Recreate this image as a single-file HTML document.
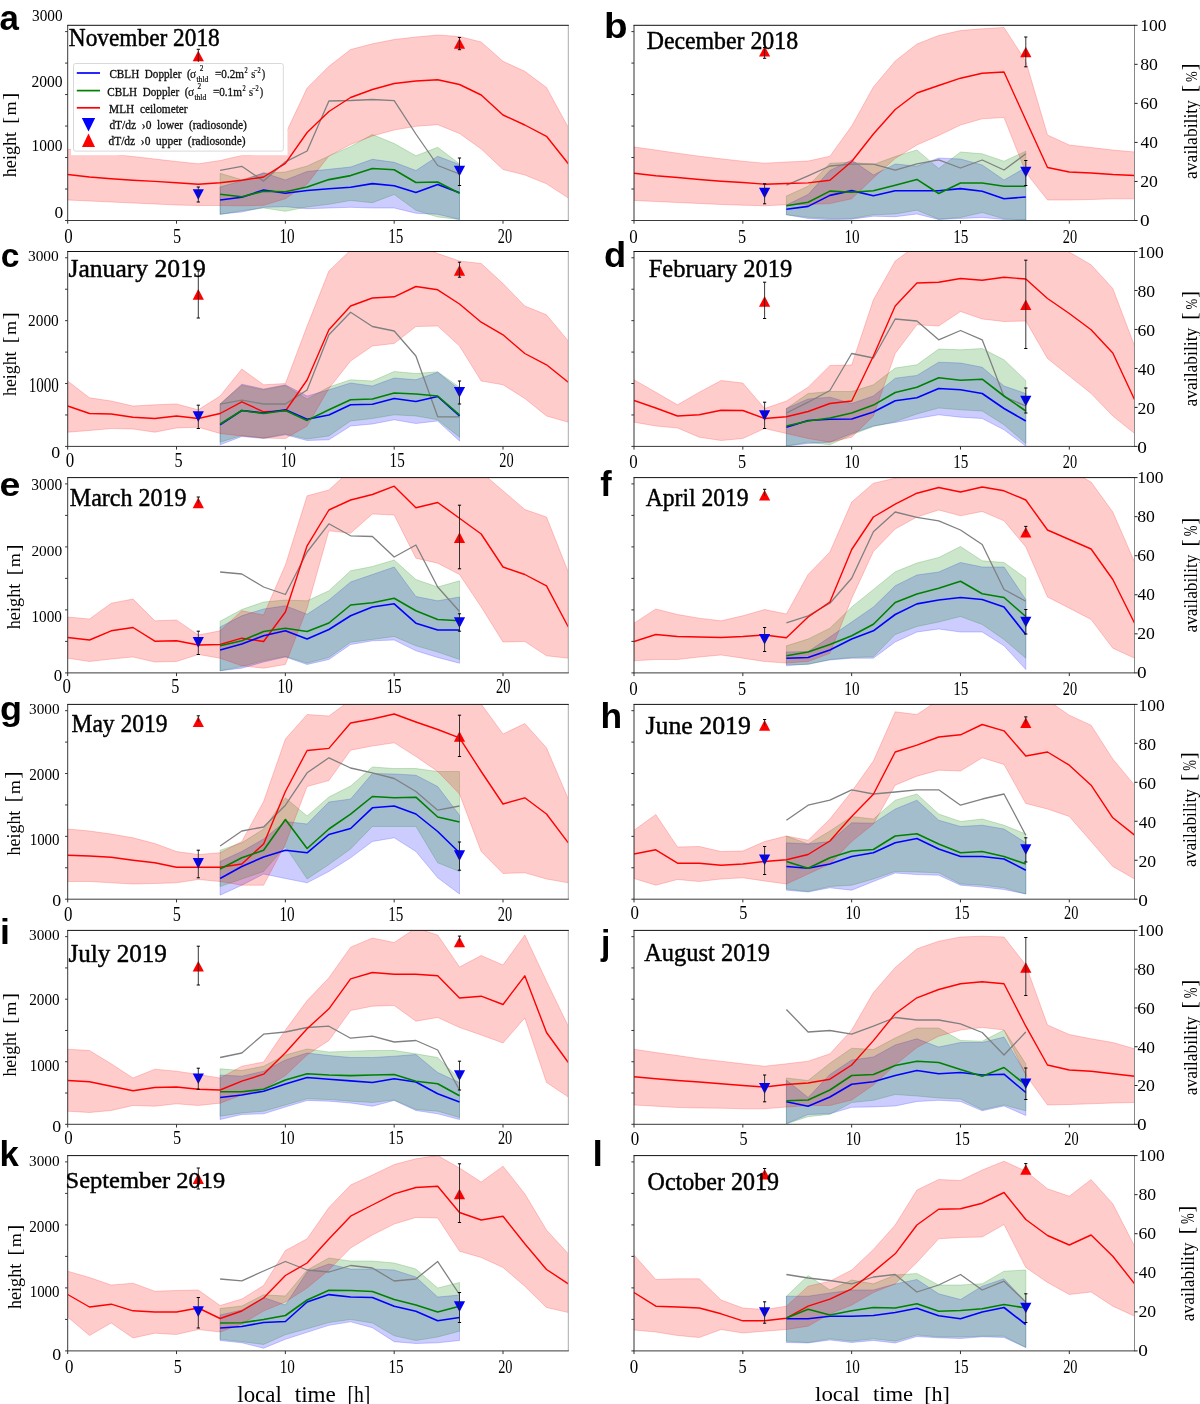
<!DOCTYPE html><html><head><meta charset="utf-8"><style>html,body{margin:0;padding:0;background:#fff;overflow:hidden}svg{display:block}</style></head><body>
<svg width="1200" height="1404" viewBox="0 0 1200 1404">
<rect width="1200" height="1404" fill="#fff"/>
<defs>
<filter id="desat" x="0" y="0" width="1200" height="1404" filterUnits="userSpaceOnUse" color-interpolation-filters="sRGB"><feColorMatrix type="saturate" values="0"/></filter>
<clipPath id="clip0"><rect x="67.7" y="25.3" width="500.60" height="195.20"/></clipPath>
<clipPath id="clip1"><rect x="634.0" y="25.3" width="500.60" height="195.20"/></clipPath>
<clipPath id="clip2"><rect x="67.7" y="251.5" width="500.60" height="194.90"/></clipPath>
<clipPath id="clip3"><rect x="634.0" y="251.5" width="500.60" height="194.90"/></clipPath>
<clipPath id="clip4"><rect x="67.7" y="477.6" width="500.60" height="195.30"/></clipPath>
<clipPath id="clip5"><rect x="634.0" y="477.6" width="500.60" height="195.30"/></clipPath>
<clipPath id="clip6"><rect x="67.7" y="704.4" width="500.60" height="194.80"/></clipPath>
<clipPath id="clip7"><rect x="634.0" y="704.4" width="500.60" height="194.80"/></clipPath>
<clipPath id="clip8"><rect x="67.7" y="930.4" width="500.60" height="193.90"/></clipPath>
<clipPath id="clip9"><rect x="634.0" y="930.4" width="500.60" height="193.90"/></clipPath>
<clipPath id="clip10"><rect x="67.7" y="1155.6" width="500.60" height="195.30"/></clipPath>
<clipPath id="clip11"><rect x="634.0" y="1155.6" width="500.60" height="195.30"/></clipPath>
</defs>
<g clip-path="url(#clip0)">
<polygon points="220.1,187.0 241.8,180.7 263.6,172.7 285.4,180.0 307.1,171.5 328.9,169.3 350.6,167.0 372.4,159.3 394.2,162.3 415.9,170.5 437.7,156.3 459.5,164.5 459.5,219.5 437.7,214.3 415.9,213.3 394.2,208.0 372.4,208.0 350.6,207.3 328.9,208.0 307.1,208.7 285.4,206.7 263.6,207.3 241.8,212.0 220.1,214.0" fill="#0000ff" fill-opacity="0.2" stroke="#0000ff" stroke-opacity="0.2" stroke-width="1"/>
<polygon points="220.1,173.3 241.8,179.7 263.6,173.3 285.4,172.0 307.1,166.0 328.9,156.0 350.6,146.5 372.4,134.5 394.2,143.5 415.9,155.8 437.7,147.3 459.5,163.8 459.5,219.5 437.7,217.0 415.9,210.3 394.2,194.5 372.4,202.7 350.6,200.5 328.9,204.3 307.1,207.0 285.4,211.3 263.6,208.0 241.8,210.7 220.1,214.7" fill="#008000" fill-opacity="0.2" stroke="#008000" stroke-opacity="0.2" stroke-width="1"/>
<polygon points="67.7,149.3 89.5,151.5 111.2,154.0 133.0,156.5 154.8,159.0 176.5,161.5 198.3,163.8 220.1,160.5 241.8,155.5 263.6,154.0 285.4,134.0 307.1,88.0 328.9,66.3 350.6,49.5 372.4,43.8 394.2,39.5 415.9,37.0 437.7,35.0 459.5,36.5 481.2,42.0 503.0,61.3 524.8,71.3 546.5,87.5 568.3,127.5 568.3,198.0 546.5,183.8 524.8,175.0 503.0,169.5 481.2,149.0 459.5,133.5 437.7,124.7 415.9,126.3 394.2,130.0 372.4,136.0 350.6,144.5 328.9,156.0 307.1,184.0 285.4,198.7 263.6,205.3 241.8,205.8 220.1,205.5 198.3,205.5 176.5,205.0 154.8,204.0 133.0,203.0 111.2,202.0 89.5,201.0 67.7,200.0" fill="#ff0000" fill-opacity="0.2" stroke="#ff0000" stroke-opacity="0.2" stroke-width="1"/>
<polyline points="220.1,170.4 241.8,166.3 263.6,181.1 285.4,161.8 307.1,151.0 328.9,101.0 350.6,100.5 372.4,99.5 394.2,100.7 415.9,134.0 437.7,165.5 459.5,174.0" fill="none" stroke="#808080" stroke-width="1.3" stroke-linejoin="round"/>
<polyline points="67.7,174.5 89.5,177.0 111.2,178.8 133.0,180.2 154.8,181.4 176.5,182.8 198.3,184.3 220.1,182.8 241.8,180.3 263.6,177.0 285.4,163.3 307.1,132.5 328.9,111.5 350.6,97.5 372.4,89.5 394.2,83.5 415.9,81.0 437.7,79.8 459.5,84.5 481.2,95.0 503.0,115.0 524.8,125.0 546.5,136.3 568.3,163.8" fill="none" stroke="#ff0000" stroke-width="1.4" stroke-linejoin="round"/>
<polyline points="220.1,200.0 241.8,197.3 263.6,190.0 285.4,193.3 307.1,190.5 328.9,188.7 350.6,187.2 372.4,183.6 394.2,185.7 415.9,192.5 437.7,184.6 459.5,192.8" fill="none" stroke="#0000ff" stroke-width="1.6" stroke-linejoin="round"/>
<polyline points="220.1,194.3 241.8,196.7 263.6,191.3 285.4,191.7 307.1,187.0 328.9,179.6 350.6,175.6 372.4,168.5 394.2,169.8 415.9,182.5 437.7,182.0 459.5,193.2" fill="none" stroke="#008000" stroke-width="1.6" stroke-linejoin="round"/>
</g>
<polygon points="198.3,50.7 192.7,61.3 203.9,61.3" fill="#ff0000"/>
<path d="M198.3,49.3V63.7" stroke="#222" stroke-width="0.9" fill="none"/>
<path d="M196.7,49.3H199.9M196.7,63.7H199.9" stroke="#000" stroke-width="1" fill="none"/>
<polygon points="198.3,199.8 192.7,189.2 203.9,189.2" fill="#0000ff"/>
<path d="M198.3,187.0V202.0" stroke="#222" stroke-width="0.9" fill="none"/>
<path d="M196.7,187.0H199.9M196.7,202.0H199.9" stroke="#000" stroke-width="1" fill="none"/>
<polygon points="459.5,38.2 453.9,48.8 465.1,48.8" fill="#ff0000"/>
<path d="M459.5,37.5V49.7" stroke="#222" stroke-width="0.9" fill="none"/>
<path d="M457.9,37.5H461.1M457.9,49.7H461.1" stroke="#000" stroke-width="1" fill="none"/>
<polygon points="459.5,176.3 453.9,165.7 465.1,165.7" fill="#0000ff"/>
<path d="M459.5,158.0V185.5" stroke="#222" stroke-width="0.9" fill="none"/>
<path d="M457.9,158.0H461.1M457.9,185.5H461.1" stroke="#000" stroke-width="1" fill="none"/>
<g clip-path="url(#clip1)">
<polygon points="786.4,205.0 808.1,194.5 829.9,170.5 851.7,160.0 873.4,175.0 895.2,164.0 916.9,166.1 938.7,158.0 960.5,159.0 982.2,165.0 1004.0,180.0 1025.8,167.5 1025.8,220.0 1004.0,219.5 982.2,217.5 960.5,218.5 938.7,219.5 916.9,214.0 895.2,216.7 873.4,216.2 851.7,219.2 829.9,219.7 808.1,218.5 786.4,214.8" fill="#0000ff" fill-opacity="0.2" stroke="#0000ff" stroke-opacity="0.2" stroke-width="1"/>
<polygon points="786.4,196.0 808.1,186.2 829.9,163.3 851.7,162.2 873.4,164.5 895.2,156.5 916.9,149.9 938.7,168.5 960.5,152.0 982.2,153.8 1004.0,161.2 1025.8,151.2 1025.8,220.0 1004.0,218.8 982.2,212.5 960.5,217.5 938.7,219.2 916.9,210.2 895.2,214.0 873.4,214.8 851.7,218.5 829.9,218.5 808.1,217.3 786.4,214.8" fill="#008000" fill-opacity="0.2" stroke="#008000" stroke-opacity="0.2" stroke-width="1"/>
<polygon points="634.0,147.0 655.8,150.0 677.5,153.2 699.3,156.2 721.1,158.8 742.8,161.2 764.6,163.2 786.4,162.0 808.1,161.0 829.9,156.2 851.7,126.0 873.4,87.0 895.2,61.0 916.9,44.0 938.7,35.5 960.5,30.5 982.2,28.8 1004.0,27.5 1025.8,61.2 1047.5,135.0 1069.3,145.0 1091.1,147.5 1112.8,150.0 1134.6,152.0 1134.6,198.8 1112.8,198.8 1091.1,199.5 1069.3,200.0 1047.5,200.0 1025.8,172.5 1004.0,117.5 982.2,118.8 960.5,125.0 938.7,135.5 916.9,145.0 895.2,158.5 873.4,178.0 851.7,198.8 829.9,203.6 808.1,204.4 786.4,204.7 764.6,205.8 742.8,205.2 721.1,204.5 699.3,203.5 677.5,202.5 655.8,201.5 634.0,200.5" fill="#ff0000" fill-opacity="0.2" stroke="#ff0000" stroke-opacity="0.2" stroke-width="1"/>
<polyline points="786.4,185.2 808.1,175.9 829.9,166.0 851.7,164.2 873.4,164.2 895.2,170.1 916.9,163.8 938.7,159.8 960.5,168.0 982.2,160.0 1004.0,170.0 1025.8,153.8" fill="none" stroke="#808080" stroke-width="1.3" stroke-linejoin="round"/>
<polyline points="634.0,173.2 655.8,175.8 677.5,177.5 699.3,179.5 721.1,181.2 742.8,182.5 764.6,184.2 786.4,183.5 808.1,182.9 829.9,180.2 851.7,161.5 873.4,134.0 895.2,109.5 916.9,93.0 938.7,85.5 960.5,78.2 982.2,73.2 1004.0,72.0 1025.8,120.0 1047.5,167.5 1069.3,172.0 1091.1,173.0 1112.8,174.5 1134.6,175.5" fill="none" stroke="#ff0000" stroke-width="1.4" stroke-linejoin="round"/>
<polyline points="786.4,209.2 808.1,206.4 829.9,195.4 851.7,190.6 873.4,195.7 895.2,190.8 916.9,190.8 938.7,190.8 960.5,188.6 982.2,191.2 1004.0,198.8 1025.8,197.0" fill="none" stroke="#0000ff" stroke-width="1.6" stroke-linejoin="round"/>
<polyline points="786.4,205.7 808.1,202.2 829.9,191.1 851.7,192.3 873.4,190.8 895.2,185.3 916.9,179.4 938.7,193.5 960.5,183.0 982.2,183.0 1004.0,186.2 1025.8,186.2" fill="none" stroke="#008000" stroke-width="1.6" stroke-linejoin="round"/>
</g>
<polygon points="764.6,46.0 759.0,56.6 770.2,56.6" fill="#ff0000"/>
<path d="M764.6,47.5V58.3" stroke="#222" stroke-width="0.9" fill="none"/>
<path d="M763.0,47.5H766.2M763.0,58.3H766.2" stroke="#000" stroke-width="1" fill="none"/>
<polygon points="764.6,198.3 759.0,187.7 770.2,187.7" fill="#0000ff"/>
<path d="M764.6,183.8V203.8" stroke="#222" stroke-width="0.9" fill="none"/>
<path d="M763.0,183.8H766.2M763.0,203.8H766.2" stroke="#000" stroke-width="1" fill="none"/>
<polygon points="1025.8,46.7 1020.2,57.3 1031.4,57.3" fill="#ff0000"/>
<path d="M1025.8,37.0V66.8" stroke="#222" stroke-width="0.9" fill="none"/>
<path d="M1024.2,37.0H1027.4M1024.2,66.8H1027.4" stroke="#000" stroke-width="1" fill="none"/>
<polygon points="1025.8,177.3 1020.2,166.7 1031.4,166.7" fill="#0000ff"/>
<path d="M1025.8,160.5V185.5" stroke="#222" stroke-width="0.9" fill="none"/>
<path d="M1024.2,160.5H1027.4M1024.2,185.5H1027.4" stroke="#000" stroke-width="1" fill="none"/>
<g clip-path="url(#clip2)">
<polygon points="220.1,404.0 241.8,384.2 263.6,389.0 285.4,384.8 307.1,396.0 328.9,389.8 350.6,383.0 372.4,386.0 394.2,378.0 415.9,379.8 437.7,372.2 459.5,389.8 459.5,441.0 437.7,421.0 415.9,423.5 394.2,419.8 372.4,424.0 350.6,426.0 328.9,439.8 307.1,440.5 285.4,434.8 263.6,438.5 241.8,436.5 220.1,444.8" fill="#0000ff" fill-opacity="0.2" stroke="#0000ff" stroke-opacity="0.2" stroke-width="1"/>
<polygon points="220.1,404.0 241.8,385.2 263.6,389.8 285.4,385.5 307.1,399.0 328.9,387.0 350.6,379.8 372.4,381.0 394.2,371.5 415.9,373.5 437.7,371.8 459.5,387.2 459.5,437.2 437.7,419.8 415.9,416.0 394.2,414.8 372.4,418.5 350.6,421.0 328.9,436.0 307.1,439.0 285.4,434.0 263.6,438.0 241.8,435.5 220.1,442.2" fill="#008000" fill-opacity="0.2" stroke="#008000" stroke-opacity="0.2" stroke-width="1"/>
<polygon points="67.7,381.0 89.5,397.8 111.2,401.0 133.0,406.0 154.8,404.8 176.5,404.0 198.3,409.8 220.1,396.0 241.8,369.0 263.6,384.8 285.4,383.5 307.1,326.0 328.9,271.0 350.6,250.0 372.4,244.0 394.2,244.0 415.9,244.0 437.7,253.5 459.5,261.0 481.2,263.5 503.0,283.5 524.8,306.0 546.5,314.8 568.3,341.0 568.3,422.2 546.5,416.0 524.8,398.5 503.0,384.8 481.2,381.0 459.5,346.0 437.7,326.0 415.9,326.5 394.2,343.5 372.4,346.0 350.6,361.0 328.9,388.5 307.1,426.0 285.4,438.5 263.6,438.0 241.8,436.0 220.1,433.5 198.3,427.2 176.5,428.0 154.8,432.2 133.0,429.0 111.2,428.5 89.5,430.5 67.7,432.2" fill="#ff0000" fill-opacity="0.2" stroke="#ff0000" stroke-opacity="0.2" stroke-width="1"/>
<polyline points="220.1,404.2 241.8,400.2 263.6,404.0 285.4,404.0 307.1,390.0 328.9,334.8 350.6,312.2 372.4,326.5 394.2,331.0 415.9,356.0 437.7,416.8 459.5,416.8" fill="none" stroke="#808080" stroke-width="1.3" stroke-linejoin="round"/>
<polyline points="67.7,406.0 89.5,413.5 111.2,414.0 133.0,417.2 154.8,418.5 176.5,416.0 198.3,418.5 220.1,413.5 241.8,401.8 263.6,411.8 285.4,411.0 307.1,380.0 328.9,329.8 350.6,306.0 372.4,298.0 394.2,296.8 415.9,286.5 437.7,289.8 459.5,304.0 481.2,322.2 503.0,334.8 524.8,353.5 546.5,364.8 568.3,382.2" fill="none" stroke="#ff0000" stroke-width="1.4" stroke-linejoin="round"/>
<polyline points="220.1,424.8 241.8,410.5 263.6,413.0 285.4,409.8 307.1,419.2 328.9,415.0 350.6,404.8 372.4,404.2 394.2,398.5 415.9,401.5 437.7,396.5 459.5,416.0" fill="none" stroke="#0000ff" stroke-width="1.6" stroke-linejoin="round"/>
<polyline points="220.1,424.0 241.8,410.5 263.6,413.5 285.4,410.5 307.1,420.4 328.9,409.8 350.6,399.8 372.4,399.0 394.2,393.0 415.9,394.0 437.7,396.0 459.5,414.8" fill="none" stroke="#008000" stroke-width="1.6" stroke-linejoin="round"/>
</g>
<polygon points="198.3,289.1 192.7,299.7 203.9,299.7" fill="#ff0000"/>
<path d="M198.3,271.0V318.0" stroke="#222" stroke-width="0.9" fill="none"/>
<path d="M196.7,271.0H199.9M196.7,318.0H199.9" stroke="#000" stroke-width="1" fill="none"/>
<polygon points="198.3,421.9 192.7,411.3 203.9,411.3" fill="#0000ff"/>
<path d="M198.3,405.2V428.5" stroke="#222" stroke-width="0.9" fill="none"/>
<path d="M196.7,405.2H199.9M196.7,428.5H199.9" stroke="#000" stroke-width="1" fill="none"/>
<polygon points="459.5,265.1 453.9,275.7 465.1,275.7" fill="#ff0000"/>
<path d="M459.5,262.2V277.2" stroke="#222" stroke-width="0.9" fill="none"/>
<path d="M457.9,262.2H461.1M457.9,277.2H461.1" stroke="#000" stroke-width="1" fill="none"/>
<polygon points="459.5,397.6 453.9,386.9 465.1,386.9" fill="#0000ff"/>
<path d="M459.5,381.0V404.0" stroke="#222" stroke-width="0.9" fill="none"/>
<path d="M457.9,381.0H461.1M457.9,404.0H461.1" stroke="#000" stroke-width="1" fill="none"/>
<g clip-path="url(#clip3)">
<polygon points="786.4,408.5 808.1,399.0 829.9,397.2 851.7,403.5 873.4,396.0 895.2,378.2 916.9,375.4 938.7,362.2 960.5,363.0 982.2,367.2 1004.0,386.0 1025.8,393.5 1025.8,446.0 1004.0,429.8 982.2,418.5 960.5,417.2 938.7,414.8 916.9,418.5 895.2,422.5 873.4,426.0 851.7,433.5 829.9,442.2 808.1,443.5 786.4,446.0" fill="#0000ff" fill-opacity="0.2" stroke="#0000ff" stroke-opacity="0.2" stroke-width="1"/>
<polygon points="786.4,408.5 808.1,393.5 829.9,391.5 851.7,391.5 873.4,384.8 895.2,368.0 916.9,364.8 938.7,349.0 960.5,349.8 982.2,348.5 1004.0,359.8 1025.8,380.5 1025.8,443.5 1004.0,424.8 982.2,411.0 960.5,409.8 938.7,408.0 916.9,414.0 895.2,421.6 873.4,426.5 851.7,434.8 829.9,444.8 808.1,442.2 786.4,446.0" fill="#008000" fill-opacity="0.2" stroke="#008000" stroke-opacity="0.2" stroke-width="1"/>
<polygon points="634.0,379.8 655.8,392.2 677.5,404.8 699.3,392.2 721.1,380.5 742.8,383.0 764.6,408.5 786.4,401.0 808.1,387.2 829.9,365.5 851.7,365.0 873.4,299.8 895.2,261.0 916.9,245.0 938.7,240.0 960.5,240.0 982.2,240.0 1004.0,240.0 1025.8,240.0 1047.5,244.0 1069.3,252.0 1091.1,264.8 1112.8,288.5 1134.6,346.0 1134.6,433.5 1112.8,416.0 1091.1,393.5 1069.3,376.0 1047.5,358.5 1025.8,321.0 1004.0,321.5 982.2,319.0 960.5,311.5 938.7,326.0 916.9,324.8 895.2,353.5 873.4,416.0 851.7,437.2 829.9,442.2 808.1,438.5 786.4,433.5 764.6,428.5 742.8,438.5 721.1,440.5 699.3,437.2 677.5,428.0 655.8,426.0 634.0,422.2" fill="#ff0000" fill-opacity="0.2" stroke="#ff0000" stroke-opacity="0.2" stroke-width="1"/>
<polyline points="786.4,413.0 808.1,402.2 829.9,390.5 851.7,353.5 873.4,358.0 895.2,319.0 916.9,321.0 938.7,339.8 960.5,330.5 982.2,339.8 1004.0,396.5 1025.8,406.0" fill="none" stroke="#808080" stroke-width="1.3" stroke-linejoin="round"/>
<polyline points="634.0,400.5 655.8,408.0 677.5,416.0 699.3,414.8 721.1,410.2 742.8,410.5 764.6,418.5 786.4,416.8 808.1,411.5 829.9,403.5 851.7,401.0 873.4,356.0 895.2,306.0 916.9,283.0 938.7,282.2 960.5,278.5 982.2,280.2 1004.0,277.2 1025.8,279.0 1047.5,298.5 1069.3,313.5 1091.1,329.8 1112.8,353.0 1134.6,399.8" fill="none" stroke="#ff0000" stroke-width="1.4" stroke-linejoin="round"/>
<polyline points="786.4,427.2 808.1,420.5 829.9,419.2 851.7,419.0 873.4,412.0 895.2,400.8 916.9,397.8 938.7,388.5 960.5,389.8 982.2,393.5 1004.0,408.5 1025.8,421.0" fill="none" stroke="#0000ff" stroke-width="1.6" stroke-linejoin="round"/>
<polyline points="786.4,426.0 808.1,421.0 829.9,418.0 851.7,413.0 873.4,405.1 895.2,392.5 916.9,387.2 938.7,377.8 960.5,380.2 982.2,379.2 1004.0,396.0 1025.8,411.0" fill="none" stroke="#008000" stroke-width="1.6" stroke-linejoin="round"/>
</g>
<polygon points="764.6,296.1 759.0,306.7 770.2,306.7" fill="#ff0000"/>
<path d="M764.6,282.2V318.5" stroke="#222" stroke-width="0.9" fill="none"/>
<path d="M763.0,282.2H766.2M763.0,318.5H766.2" stroke="#000" stroke-width="1" fill="none"/>
<polygon points="764.6,420.8 759.0,410.2 770.2,410.2" fill="#0000ff"/>
<path d="M764.6,402.2V428.5" stroke="#222" stroke-width="0.9" fill="none"/>
<path d="M763.0,402.2H766.2M763.0,428.5H766.2" stroke="#000" stroke-width="1" fill="none"/>
<polygon points="1025.8,299.4 1020.2,310.1 1031.4,310.1" fill="#ff0000"/>
<path d="M1025.8,260.2V348.5" stroke="#222" stroke-width="0.9" fill="none"/>
<path d="M1024.2,260.2H1027.4M1024.2,348.5H1027.4" stroke="#000" stroke-width="1" fill="none"/>
<polygon points="1025.8,406.3 1020.2,395.7 1031.4,395.7" fill="#0000ff"/>
<path d="M1025.8,388.0V413.0" stroke="#222" stroke-width="0.9" fill="none"/>
<path d="M1024.2,388.0H1027.4M1024.2,413.0H1027.4" stroke="#000" stroke-width="1" fill="none"/>
<g clip-path="url(#clip4)">
<polygon points="220.1,627.0 241.8,615.8 263.6,609.0 285.4,605.8 307.1,614.2 328.9,600.0 350.6,582.0 372.4,574.5 394.2,567.0 415.9,596.5 437.7,600.8 459.5,597.0 459.5,663.2 437.7,657.5 415.9,650.8 394.2,640.0 372.4,640.8 350.6,644.5 328.9,659.5 307.1,664.5 285.4,657.0 263.6,662.0 241.8,668.2 220.1,670.8" fill="#0000ff" fill-opacity="0.2" stroke="#0000ff" stroke-opacity="0.2" stroke-width="1"/>
<polygon points="220.1,621.2 241.8,609.5 263.6,602.0 285.4,600.0 307.1,600.8 328.9,590.8 350.6,570.8 372.4,566.5 394.2,560.0 415.9,579.5 437.7,587.0 459.5,580.8 459.5,659.5 437.7,652.0 415.9,645.8 394.2,636.5 372.4,639.5 350.6,642.2 328.9,657.5 307.1,663.2 285.4,656.5 263.6,660.8 241.8,666.5 220.1,670.8" fill="#008000" fill-opacity="0.2" stroke="#008000" stroke-opacity="0.2" stroke-width="1"/>
<polygon points="67.7,617.0 89.5,619.0 111.2,603.2 133.0,599.0 154.8,620.8 176.5,620.0 198.3,635.0 220.1,630.8 241.8,610.8 263.6,615.0 285.4,565.0 307.1,495.8 328.9,490.0 350.6,470.0 372.4,470.0 394.2,470.0 415.9,470.0 437.7,470.0 459.5,470.0 481.2,472.0 503.0,490.8 524.8,509.5 546.5,517.0 568.3,572.0 568.3,658.2 546.5,655.8 524.8,641.5 503.0,642.0 481.2,607.0 459.5,574.5 437.7,563.2 415.9,558.2 394.2,515.0 372.4,514.0 350.6,533.2 328.9,530.8 307.1,608.2 285.4,664.5 263.6,668.2 241.8,665.8 220.1,658.2 198.3,654.5 176.5,661.5 154.8,662.0 133.0,657.0 111.2,659.0 89.5,661.5 67.7,658.2" fill="#ff0000" fill-opacity="0.2" stroke="#ff0000" stroke-opacity="0.2" stroke-width="1"/>
<polyline points="220.1,572.0 241.8,574.0 263.6,587.0 285.4,594.5 307.1,552.0 328.9,523.8 350.6,535.8 372.4,536.5 394.2,557.0 415.9,545.0 437.7,587.0 459.5,611.5" fill="none" stroke="#808080" stroke-width="1.3" stroke-linejoin="round"/>
<polyline points="67.7,637.5 89.5,640.0 111.2,630.8 133.0,627.5 154.8,641.2 176.5,640.8 198.3,645.0 220.1,644.5 241.8,638.2 263.6,641.5 285.4,612.0 307.1,545.8 328.9,510.0 350.6,500.0 372.4,494.5 394.2,486.2 415.9,507.8 437.7,502.5 459.5,518.2 481.2,534.0 503.0,567.0 524.8,574.5 546.5,585.8 568.3,627.0" fill="none" stroke="#ff0000" stroke-width="1.4" stroke-linejoin="round"/>
<polyline points="220.1,650.0 241.8,644.0 263.6,635.8 285.4,630.8 307.1,639.0 328.9,629.5 350.6,615.8 372.4,607.0 394.2,603.8 415.9,623.2 437.7,630.0 459.5,630.0" fill="none" stroke="#0000ff" stroke-width="1.6" stroke-linejoin="round"/>
<polyline points="220.1,645.8 241.8,640.8 263.6,631.5 285.4,628.2 307.1,631.5 328.9,623.0 350.6,605.0 372.4,602.8 394.2,598.2 415.9,610.8 437.7,619.5 459.5,620.8" fill="none" stroke="#008000" stroke-width="1.6" stroke-linejoin="round"/>
</g>
<polygon points="198.3,497.6 192.7,508.2 203.9,508.2" fill="#ff0000"/>
<path d="M198.3,497.0V503.4" stroke="#222" stroke-width="0.9" fill="none"/>
<path d="M196.7,497.0H199.9" stroke="#000" stroke-width="1" fill="none"/>
<polygon points="198.3,647.7 192.7,637.1 203.9,637.1" fill="#0000ff"/>
<path d="M198.3,631.2V654.5" stroke="#222" stroke-width="0.9" fill="none"/>
<path d="M196.7,631.2H199.9M196.7,654.5H199.9" stroke="#000" stroke-width="1" fill="none"/>
<polygon points="459.5,532.3 453.9,542.9 465.1,542.9" fill="#ff0000"/>
<path d="M459.5,505.2V568.8" stroke="#222" stroke-width="0.9" fill="none"/>
<path d="M457.9,505.2H461.1M457.9,568.8H461.1" stroke="#000" stroke-width="1" fill="none"/>
<polygon points="459.5,627.9 453.9,617.3 465.1,617.3" fill="#0000ff"/>
<path d="M459.5,613.8V631.2" stroke="#222" stroke-width="0.9" fill="none"/>
<path d="M457.9,613.8H461.1M457.9,631.2H461.1" stroke="#000" stroke-width="1" fill="none"/>
<g clip-path="url(#clip5)">
<polygon points="786.4,652.0 808.1,651.5 829.9,637.0 851.7,622.0 873.4,607.0 895.2,585.8 916.9,575.0 938.7,572.0 960.5,562.5 982.2,567.0 1004.0,567.0 1025.8,599.5 1025.8,669.5 1004.0,645.8 982.2,632.0 960.5,632.0 938.7,629.0 916.9,632.0 895.2,642.0 873.4,658.2 851.7,658.2 829.9,660.0 808.1,664.0 786.4,665.8" fill="#0000ff" fill-opacity="0.2" stroke="#0000ff" stroke-opacity="0.2" stroke-width="1"/>
<polygon points="786.4,645.8 808.1,639.0 829.9,628.2 851.7,607.0 873.4,589.5 895.2,571.8 916.9,563.0 938.7,557.5 960.5,546.5 982.2,560.8 1004.0,562.5 1025.8,578.2 1025.8,658.2 1004.0,639.5 982.2,624.5 960.5,616.5 938.7,622.0 916.9,626.5 895.2,634.5 873.4,656.8 851.7,657.5 829.9,659.5 808.1,664.5 786.4,664.5" fill="#008000" fill-opacity="0.2" stroke="#008000" stroke-opacity="0.2" stroke-width="1"/>
<polygon points="634.0,623.2 655.8,609.0 677.5,614.5 699.3,618.2 721.1,620.8 742.8,615.8 764.6,609.5 786.4,614.0 808.1,574.5 829.9,552.0 851.7,502.0 873.4,483.2 895.2,478.2 916.9,470.0 938.7,470.0 960.5,470.0 982.2,470.0 1004.0,470.0 1025.8,470.0 1047.5,470.0 1069.3,470.0 1091.1,482.0 1112.8,512.0 1134.6,562.0 1134.6,658.2 1112.8,648.2 1091.1,619.5 1069.3,608.2 1047.5,597.0 1025.8,547.0 1004.0,520.8 982.2,511.5 960.5,515.8 938.7,510.0 916.9,517.0 895.2,529.0 873.4,551.5 851.7,598.5 829.9,653.3 808.1,661.5 786.4,663.0 764.6,661.5 742.8,658.2 721.1,655.0 699.3,657.0 677.5,659.5 655.8,659.5 634.0,660.8" fill="#ff0000" fill-opacity="0.2" stroke="#ff0000" stroke-opacity="0.2" stroke-width="1"/>
<polyline points="786.4,622.8 808.1,615.8 829.9,603.2 851.7,578.2 873.4,531.8 895.2,512.0 916.9,517.4 938.7,520.8 960.5,530.0 982.2,544.5 1004.0,589.5 1025.8,601.2" fill="none" stroke="#808080" stroke-width="1.3" stroke-linejoin="round"/>
<polyline points="634.0,641.5 655.8,634.5 677.5,636.5 699.3,637.0 721.1,637.5 742.8,636.5 764.6,635.0 786.4,637.8 808.1,617.0 829.9,602.0 851.7,549.5 873.4,517.0 895.2,504.2 916.9,493.2 938.7,487.5 960.5,492.0 982.2,487.0 1004.0,490.8 1025.8,500.0 1047.5,530.0 1069.3,539.5 1091.1,549.0 1112.8,579.5 1134.6,623.2" fill="none" stroke="#ff0000" stroke-width="1.4" stroke-linejoin="round"/>
<polyline points="786.4,658.2 808.1,657.5 829.9,650.0 851.7,639.0 873.4,630.8 895.2,614.5 916.9,603.9 938.7,600.0 960.5,597.5 982.2,599.5 1004.0,607.0 1025.8,634.5" fill="none" stroke="#0000ff" stroke-width="1.6" stroke-linejoin="round"/>
<polyline points="786.4,655.8 808.1,652.0 829.9,644.5 851.7,635.8 873.4,624.2 895.2,602.5 916.9,593.9 938.7,588.2 960.5,581.2 982.2,593.8 1004.0,597.5 1025.8,616.5" fill="none" stroke="#008000" stroke-width="1.6" stroke-linejoin="round"/>
</g>
<polygon points="764.6,489.9 759.0,500.6 770.2,500.6" fill="#ff0000"/>
<path d="M764.6,489.3V495.8" stroke="#222" stroke-width="0.9" fill="none"/>
<path d="M763.0,489.3H766.2" stroke="#000" stroke-width="1" fill="none"/>
<polygon points="764.6,644.5 759.0,634.0 770.2,634.0" fill="#0000ff"/>
<path d="M764.6,627.5V651.5" stroke="#222" stroke-width="0.9" fill="none"/>
<path d="M763.0,627.5H766.2M763.0,651.5H766.2" stroke="#000" stroke-width="1" fill="none"/>
<polygon points="1025.8,527.0 1020.2,537.5 1031.4,537.5" fill="#ff0000"/>
<path d="M1025.8,526.4V532.8" stroke="#222" stroke-width="0.9" fill="none"/>
<path d="M1024.2,526.4H1027.4" stroke="#000" stroke-width="1" fill="none"/>
<polygon points="1025.8,627.3 1020.2,616.7 1031.4,616.7" fill="#0000ff"/>
<path d="M1025.8,609.5V634.0" stroke="#222" stroke-width="0.9" fill="none"/>
<path d="M1024.2,609.5H1027.4M1024.2,634.0H1027.4" stroke="#000" stroke-width="1" fill="none"/>
<g clip-path="url(#clip6)">
<polygon points="220.1,861.5 241.8,851.5 263.6,839.0 285.4,821.5 307.1,824.0 328.9,802.0 350.6,799.0 372.4,773.5 394.2,774.0 415.9,775.2 437.7,786.5 459.5,815.2 459.5,894.0 437.7,877.8 415.9,851.5 394.2,837.8 372.4,841.5 350.6,857.8 328.9,871.5 307.1,882.8 285.4,878.5 263.6,874.0 241.8,885.2 220.1,895.2" fill="#0000ff" fill-opacity="0.2" stroke="#0000ff" stroke-opacity="0.2" stroke-width="1"/>
<polygon points="220.1,850.2 241.8,842.8 263.6,829.0 285.4,797.8 307.1,816.0 328.9,797.0 350.6,786.0 372.4,767.0 394.2,768.5 415.9,768.5 437.7,771.5 459.5,771.5 459.5,871.5 437.7,862.8 415.9,826.5 394.2,826.5 372.4,826.5 350.6,849.0 328.9,864.6 307.1,879.0 285.4,846.5 263.6,871.5 241.8,879.0 220.1,886.5" fill="#008000" fill-opacity="0.2" stroke="#008000" stroke-opacity="0.2" stroke-width="1"/>
<polygon points="67.7,829.0 89.5,831.0 111.2,834.0 133.0,837.8 154.8,843.5 176.5,851.5 198.3,854.5 220.1,852.8 241.8,841.5 263.6,801.5 285.4,739.0 307.1,714.5 328.9,716.0 350.6,700.0 372.4,700.0 394.2,700.0 415.9,700.0 437.7,700.0 459.5,700.0 481.2,704.0 503.0,734.0 524.8,723.5 546.5,747.8 568.3,799.0 568.3,882.8 546.5,879.0 524.8,872.8 503.0,873.5 481.2,851.5 459.5,794.0 437.7,771.5 415.9,756.5 394.2,742.8 372.4,746.0 350.6,750.2 328.9,780.6 307.1,786.5 285.4,844.0 263.6,885.2 241.8,885.2 220.1,881.5 198.3,879.5 176.5,882.8 154.8,883.5 133.0,884.0 111.2,882.8 89.5,881.5 67.7,881.5" fill="#ff0000" fill-opacity="0.2" stroke="#ff0000" stroke-opacity="0.2" stroke-width="1"/>
<polyline points="220.1,846.0 241.8,831.0 263.6,827.0 285.4,805.2 307.1,772.8 328.9,757.8 350.6,768.0 372.4,772.8 394.2,778.5 415.9,791.5 437.7,810.2 459.5,806.0" fill="none" stroke="#808080" stroke-width="1.3" stroke-linejoin="round"/>
<polyline points="67.7,855.2 89.5,856.0 111.2,857.2 133.0,860.2 154.8,862.8 176.5,867.2 198.3,867.2 220.1,867.2 241.8,864.0 263.6,844.0 285.4,791.5 307.1,750.5 328.9,748.4 350.6,723.0 372.4,719.0 394.2,714.0 415.9,722.0 437.7,729.5 459.5,737.8 481.2,771.5 503.0,804.0 524.8,797.8 546.5,814.0 568.3,842.8" fill="none" stroke="#ff0000" stroke-width="1.4" stroke-linejoin="round"/>
<polyline points="220.1,878.5 241.8,866.5 263.6,857.0 285.4,850.2 307.1,852.8 328.9,834.5 350.6,828.5 372.4,807.8 394.2,806.0 415.9,814.0 437.7,831.5 459.5,852.8" fill="none" stroke="#0000ff" stroke-width="1.6" stroke-linejoin="round"/>
<polyline points="220.1,869.0 241.8,857.8 263.6,850.2 285.4,819.5 307.1,848.5 328.9,829.0 350.6,814.2 372.4,796.5 394.2,797.8 415.9,797.2 437.7,817.0 459.5,822.0" fill="none" stroke="#008000" stroke-width="1.6" stroke-linejoin="round"/>
</g>
<polygon points="198.3,716.4 192.7,726.9 203.9,726.9" fill="#ff0000"/>
<path d="M198.3,715.8V722.1" stroke="#222" stroke-width="0.9" fill="none"/>
<path d="M196.7,715.8H199.9" stroke="#000" stroke-width="1" fill="none"/>
<polygon points="198.3,868.7 192.7,858.1 203.9,858.1" fill="#0000ff"/>
<path d="M198.3,850.2V877.8" stroke="#222" stroke-width="0.9" fill="none"/>
<path d="M196.7,850.2H199.9M196.7,877.8H199.9" stroke="#000" stroke-width="1" fill="none"/>
<polygon points="459.5,731.2 453.9,741.8 465.1,741.8" fill="#ff0000"/>
<path d="M459.5,715.2V756.5" stroke="#222" stroke-width="0.9" fill="none"/>
<path d="M457.9,715.2H461.1M457.9,756.5H461.1" stroke="#000" stroke-width="1" fill="none"/>
<polygon points="459.5,860.9 453.9,850.3 465.1,850.3" fill="#0000ff"/>
<path d="M459.5,842.0V870.2" stroke="#222" stroke-width="0.9" fill="none"/>
<path d="M457.9,842.0H461.1M457.9,870.2H461.1" stroke="#000" stroke-width="1" fill="none"/>
<g clip-path="url(#clip7)">
<polygon points="786.4,842.8 808.1,844.0 829.9,841.5 851.7,822.8 873.4,823.2 895.2,809.0 916.9,800.2 938.7,820.2 960.5,826.5 982.2,825.2 1004.0,829.0 1025.8,842.8 1025.8,894.0 1004.0,889.5 982.2,887.0 960.5,885.2 938.7,875.2 916.9,874.6 895.2,873.0 873.4,881.5 851.7,890.2 829.9,887.8 808.1,892.0 786.4,890.2" fill="#0000ff" fill-opacity="0.2" stroke="#0000ff" stroke-opacity="0.2" stroke-width="1"/>
<polygon points="786.4,836.0 808.1,844.0 829.9,831.0 851.7,816.5 873.4,819.0 895.2,800.2 916.9,794.0 938.7,814.0 960.5,821.5 982.2,819.0 1004.0,825.2 1025.8,834.0 1025.8,894.0 1004.0,887.8 982.2,885.2 960.5,884.0 938.7,872.8 916.9,872.0 895.2,871.5 873.4,879.0 851.7,885.2 829.9,886.5 808.1,891.5 786.4,889.0" fill="#008000" fill-opacity="0.2" stroke="#008000" stroke-opacity="0.2" stroke-width="1"/>
<polygon points="634.0,830.2 655.8,814.5 677.5,847.0 699.3,846.5 721.1,851.5 742.8,851.0 764.6,841.5 786.4,836.0 808.1,840.2 829.9,819.0 851.7,791.5 873.4,761.0 895.2,711.8 916.9,714.5 938.7,700.0 960.5,700.0 982.2,700.0 1004.0,700.0 1025.8,704.0 1047.5,700.0 1069.3,715.2 1091.1,725.2 1112.8,759.0 1134.6,785.2 1134.6,879.0 1112.8,866.5 1091.1,841.5 1069.3,816.5 1047.5,809.0 1025.8,803.5 1004.0,764.5 982.2,757.8 960.5,771.0 938.7,770.2 916.9,776.2 895.2,785.2 873.4,824.0 851.7,841.5 829.9,864.0 808.1,874.0 786.4,884.0 764.6,881.0 742.8,877.8 721.1,879.0 699.3,881.5 677.5,879.5 655.8,885.2 634.0,878.5" fill="#ff0000" fill-opacity="0.2" stroke="#ff0000" stroke-opacity="0.2" stroke-width="1"/>
<polyline points="786.4,820.2 808.1,805.2 829.9,800.2 851.7,789.8 873.4,794.0 895.2,792.0 916.9,789.8 938.7,789.8 960.5,805.2 982.2,799.0 1004.0,794.0 1025.8,835.2" fill="none" stroke="#808080" stroke-width="1.3" stroke-linejoin="round"/>
<polyline points="634.0,854.0 655.8,849.8 677.5,863.2 699.3,863.2 721.1,865.2 742.8,864.0 764.6,861.5 786.4,859.8 808.1,854.5 829.9,841.0 851.7,816.5 873.4,794.2 895.2,752.0 916.9,745.2 938.7,737.0 960.5,734.8 982.2,724.5 1004.0,730.8 1025.8,756.0 1047.5,752.0 1069.3,765.2 1091.1,785.2 1112.8,817.8 1134.6,835.2" fill="none" stroke="#ff0000" stroke-width="1.4" stroke-linejoin="round"/>
<polyline points="786.4,866.5 808.1,868.2 829.9,864.0 851.7,856.5 873.4,852.8 895.2,842.8 916.9,838.5 938.7,849.0 960.5,856.5 982.2,856.5 1004.0,859.0 1025.8,870.2" fill="none" stroke="#0000ff" stroke-width="1.6" stroke-linejoin="round"/>
<polyline points="786.4,861.5 808.1,868.2 829.9,857.8 851.7,851.0 873.4,849.5 895.2,836.0 916.9,833.8 938.7,844.0 960.5,852.8 982.2,851.5 1004.0,856.5 1025.8,864.0" fill="none" stroke="#008000" stroke-width="1.6" stroke-linejoin="round"/>
</g>
<polygon points="764.6,720.1 759.0,730.7 770.2,730.7" fill="#ff0000"/>
<path d="M764.6,719.5V725.9" stroke="#222" stroke-width="0.9" fill="none"/>
<path d="M763.0,719.5H766.2" stroke="#000" stroke-width="1" fill="none"/>
<polygon points="764.6,865.2 759.0,854.6 770.2,854.6" fill="#0000ff"/>
<path d="M764.6,846.5V874.5" stroke="#222" stroke-width="0.9" fill="none"/>
<path d="M763.0,846.5H766.2M763.0,874.5H766.2" stroke="#000" stroke-width="1" fill="none"/>
<polygon points="1025.8,717.5 1020.2,728.0 1031.4,728.0" fill="#ff0000"/>
<path d="M1025.8,716.9V723.2" stroke="#222" stroke-width="0.9" fill="none"/>
<path d="M1024.2,716.9H1027.4" stroke="#000" stroke-width="1" fill="none"/>
<polygon points="1025.8,854.8 1020.2,844.2 1031.4,844.2" fill="#0000ff"/>
<path d="M1025.8,837.8V862.0" stroke="#222" stroke-width="0.9" fill="none"/>
<path d="M1024.2,837.8H1027.4M1024.2,862.0H1027.4" stroke="#000" stroke-width="1" fill="none"/>
<g clip-path="url(#clip8)">
<polygon points="220.1,1075.0 241.8,1076.2 263.6,1071.2 285.4,1060.0 307.1,1053.0 328.9,1055.5 350.6,1057.5 372.4,1057.5 394.2,1056.2 415.9,1054.5 437.7,1072.5 459.5,1082.5 459.5,1119.5 437.7,1113.8 415.9,1110.5 394.2,1100.5 372.4,1106.2 350.6,1103.0 328.9,1101.2 307.1,1100.5 285.4,1107.0 263.6,1113.8 241.8,1114.5 220.1,1119.5" fill="#0000ff" fill-opacity="0.2" stroke="#0000ff" stroke-opacity="0.2" stroke-width="1"/>
<polygon points="220.1,1068.8 241.8,1070.5 263.6,1066.2 285.4,1055.0 307.1,1049.0 328.9,1052.0 350.6,1051.2 372.4,1050.5 394.2,1050.5 415.9,1053.8 437.7,1057.5 459.5,1078.8 459.5,1117.5 437.7,1111.2 415.9,1109.5 394.2,1100.0 372.4,1102.5 350.6,1101.2 328.9,1099.5 307.1,1098.8 285.4,1105.0 263.6,1111.2 241.8,1113.0 220.1,1116.2" fill="#008000" fill-opacity="0.2" stroke="#008000" stroke-opacity="0.2" stroke-width="1"/>
<polygon points="67.7,1049.2 89.5,1050.5 111.2,1063.8 133.0,1078.0 154.8,1069.2 176.5,1071.2 198.3,1074.5 220.1,1078.0 241.8,1066.2 263.6,1062.0 285.4,1030.0 307.1,1000.6 328.9,977.8 350.6,947.2 372.4,938.0 394.2,942.5 415.9,928.0 437.7,935.0 459.5,967.0 481.2,955.5 503.0,965.0 524.8,935.0 546.5,981.2 568.3,1026.2 568.3,1097.0 546.5,1082.5 524.8,1018.0 503.0,1043.0 481.2,1035.0 459.5,1027.5 437.7,1017.5 415.9,1021.2 394.2,1005.5 372.4,1006.2 350.6,1010.6 328.9,1040.5 307.1,1054.9 285.4,1075.5 263.6,1088.8 241.8,1095.0 220.1,1103.2 198.3,1105.5 176.5,1103.8 154.8,1106.2 133.0,1105.5 111.2,1110.5 89.5,1112.5 67.7,1111.2" fill="#ff0000" fill-opacity="0.2" stroke="#ff0000" stroke-opacity="0.2" stroke-width="1"/>
<polyline points="220.1,1057.5 241.8,1053.0 263.6,1034.2 285.4,1032.0 307.1,1027.5 328.9,1026.2 350.6,1038.2 372.4,1036.2 394.2,1042.0 415.9,1040.5 437.7,1050.0 459.5,1090.0" fill="none" stroke="#808080" stroke-width="1.3" stroke-linejoin="round"/>
<polyline points="67.7,1080.5 89.5,1081.8 111.2,1086.2 133.0,1090.8 154.8,1087.5 176.5,1087.0 198.3,1089.2 220.1,1090.0 241.8,1081.2 263.6,1074.2 285.4,1052.8 307.1,1028.8 328.9,1008.8 350.6,978.8 372.4,972.5 394.2,974.2 415.9,974.2 437.7,975.8 459.5,998.0 481.2,996.2 503.0,1004.5 524.8,975.8 546.5,1032.5 568.3,1062.5" fill="none" stroke="#ff0000" stroke-width="1.4" stroke-linejoin="round"/>
<polyline points="220.1,1097.5 241.8,1095.0 263.6,1091.2 285.4,1084.0 307.1,1077.5 328.9,1079.2 350.6,1080.9 372.4,1082.5 394.2,1078.8 415.9,1082.0 437.7,1093.8 459.5,1102.0" fill="none" stroke="#0000ff" stroke-width="1.6" stroke-linejoin="round"/>
<polyline points="220.1,1091.8 241.8,1091.8 263.6,1089.2 285.4,1080.0 307.1,1073.8 328.9,1075.0 350.6,1075.6 372.4,1075.0 394.2,1074.5 415.9,1081.2 437.7,1083.8 459.5,1095.8" fill="none" stroke="#008000" stroke-width="1.6" stroke-linejoin="round"/>
</g>
<polygon points="198.3,961.0 192.7,971.5 203.9,971.5" fill="#ff0000"/>
<path d="M198.3,946.2V985.0" stroke="#222" stroke-width="0.9" fill="none"/>
<path d="M196.7,946.2H199.9M196.7,985.0H199.9" stroke="#000" stroke-width="1" fill="none"/>
<polygon points="198.3,1084.0 192.7,1073.5 203.9,1073.5" fill="#0000ff"/>
<path d="M198.3,1068.2V1089.2" stroke="#222" stroke-width="0.9" fill="none"/>
<path d="M196.7,1068.2H199.9M196.7,1089.2H199.9" stroke="#000" stroke-width="1" fill="none"/>
<polygon points="459.5,936.7 453.9,947.3 465.1,947.3" fill="#ff0000"/>
<path d="M459.5,936.1V942.5" stroke="#222" stroke-width="0.9" fill="none"/>
<path d="M457.9,936.1H461.1" stroke="#000" stroke-width="1" fill="none"/>
<polygon points="459.5,1080.8 453.9,1070.2 465.1,1070.2" fill="#0000ff"/>
<path d="M459.5,1061.2V1090.0" stroke="#222" stroke-width="0.9" fill="none"/>
<path d="M457.9,1061.2H461.1M457.9,1090.0H461.1" stroke="#000" stroke-width="1" fill="none"/>
<g clip-path="url(#clip9)">
<polygon points="786.4,1080.0 808.1,1097.5 829.9,1074.5 851.7,1060.0 873.4,1057.0 895.2,1045.0 916.9,1038.8 938.7,1047.0 960.5,1042.5 982.2,1042.5 1004.0,1037.0 1025.8,1073.8 1025.8,1115.5 1004.0,1106.0 982.2,1110.8 960.5,1101.5 938.7,1100.3 916.9,1101.5 895.2,1106.0 873.4,1106.9 851.7,1107.3 829.9,1113.8 808.1,1114.5 786.4,1123.8" fill="#0000ff" fill-opacity="0.2" stroke="#0000ff" stroke-opacity="0.2" stroke-width="1"/>
<polygon points="786.4,1078.0 808.1,1080.5 829.9,1063.2 851.7,1048.2 873.4,1049.5 895.2,1038.0 916.9,1028.0 938.7,1028.0 960.5,1040.5 982.2,1041.2 1004.0,1030.0 1025.8,1063.8 1025.8,1110.8 1004.0,1105.0 982.2,1109.7 960.5,1099.0 938.7,1098.0 916.9,1096.0 895.2,1094.5 873.4,1100.3 851.7,1102.6 829.9,1114.3 808.1,1116.7 786.4,1123.8" fill="#008000" fill-opacity="0.2" stroke="#008000" stroke-opacity="0.2" stroke-width="1"/>
<polygon points="634.0,1049.2 655.8,1052.5 677.5,1055.5 699.3,1058.8 721.1,1061.2 742.8,1063.8 764.6,1066.2 786.4,1063.8 808.1,1061.2 829.9,1053.8 851.7,1030.0 873.4,992.5 895.2,967.5 916.9,948.8 938.7,941.2 960.5,937.0 982.2,936.2 1004.0,937.0 1025.8,965.0 1047.5,1025.0 1069.3,1034.5 1091.1,1038.8 1112.8,1042.5 1134.6,1048.8 1134.6,1102.5 1112.8,1103.0 1091.1,1103.8 1069.3,1104.5 1047.5,1105.0 1025.8,1075.0 1004.0,1030.0 982.2,1027.5 960.5,1030.0 938.7,1036.2 916.9,1047.5 895.2,1065.0 873.4,1085.0 851.7,1100.0 829.9,1105.5 808.1,1105.5 786.4,1107.0 764.6,1108.8 742.8,1108.8 721.1,1108.2 699.3,1108.0 677.5,1107.5 655.8,1106.2 634.0,1105.0" fill="#ff0000" fill-opacity="0.2" stroke="#ff0000" stroke-opacity="0.2" stroke-width="1"/>
<polyline points="786.4,1009.5 808.1,1032.0 829.9,1030.5 851.7,1034.2 873.4,1026.2 895.2,1017.5 916.9,1020.0 938.7,1020.0 960.5,1023.8 982.2,1032.5 1004.0,1055.0 1025.8,1032.0" fill="none" stroke="#808080" stroke-width="1.3" stroke-linejoin="round"/>
<polyline points="634.0,1076.8 655.8,1078.8 677.5,1080.5 699.3,1082.0 721.1,1083.8 742.8,1085.5 764.6,1087.0 786.4,1084.5 808.1,1083.0 829.9,1079.2 851.7,1065.0 873.4,1040.6 895.2,1013.8 916.9,997.8 938.7,989.5 960.5,983.8 982.2,981.8 1004.0,983.8 1025.8,1026.2 1047.5,1065.0 1069.3,1070.0 1091.1,1071.2 1112.8,1073.8 1134.6,1076.2" fill="none" stroke="#ff0000" stroke-width="1.4" stroke-linejoin="round"/>
<polyline points="786.4,1101.8 808.1,1106.2 829.9,1097.0 851.7,1084.2 873.4,1081.8 895.2,1075.5 916.9,1070.5 938.7,1073.8 960.5,1072.5 982.2,1075.0 1004.0,1074.2 1025.8,1092.5" fill="none" stroke="#0000ff" stroke-width="1.6" stroke-linejoin="round"/>
<polyline points="786.4,1100.8 808.1,1100.0 829.9,1090.0 851.7,1075.5 873.4,1074.5 895.2,1065.5 916.9,1061.2 938.7,1062.5 960.5,1069.5 982.2,1076.2 1004.0,1067.5 1025.8,1085.0" fill="none" stroke="#008000" stroke-width="1.6" stroke-linejoin="round"/>
</g>
<polygon points="764.6,1093.7 759.0,1083.1 770.2,1083.1" fill="#0000ff"/>
<path d="M764.6,1075.0V1101.8" stroke="#222" stroke-width="0.9" fill="none"/>
<path d="M763.0,1075.0H766.2M763.0,1101.8H766.2" stroke="#000" stroke-width="1" fill="none"/>
<polygon points="1025.8,962.2 1020.2,972.8 1031.4,972.8" fill="#ff0000"/>
<path d="M1025.8,937.5V995.5" stroke="#222" stroke-width="0.9" fill="none"/>
<path d="M1024.2,937.5H1027.4M1024.2,995.5H1027.4" stroke="#000" stroke-width="1" fill="none"/>
<polygon points="1025.8,1089.0 1020.2,1078.5 1031.4,1078.5" fill="#0000ff"/>
<path d="M1025.8,1068.0V1099.5" stroke="#222" stroke-width="0.9" fill="none"/>
<path d="M1024.2,1068.0H1027.4M1024.2,1099.5H1027.4" stroke="#000" stroke-width="1" fill="none"/>
<g clip-path="url(#clip10)">
<polygon points="220.1,1315.0 241.8,1310.0 263.6,1297.5 285.4,1305.0 307.1,1272.0 328.9,1264.0 350.6,1269.0 372.4,1269.0 394.2,1270.0 415.9,1277.0 437.7,1297.0 459.5,1295.0 459.5,1340.5 437.7,1342.8 415.9,1343.5 394.2,1341.7 372.4,1327.7 350.6,1321.8 328.9,1325.3 307.1,1332.3 285.4,1339.3 263.6,1348.2 241.8,1342.8 220.1,1340.5" fill="#0000ff" fill-opacity="0.2" stroke="#0000ff" stroke-opacity="0.2" stroke-width="1"/>
<polygon points="220.1,1308.5 241.8,1306.0 263.6,1294.8 285.4,1296.0 307.1,1270.0 328.9,1258.0 350.6,1261.0 372.4,1261.0 394.2,1263.0 415.9,1269.0 437.7,1288.0 459.5,1282.5 459.5,1331.2 437.7,1337.0 415.9,1340.5 394.2,1335.8 372.4,1323.0 350.6,1319.5 328.9,1322.5 307.1,1328.8 285.4,1334.7 263.6,1344.5 241.8,1341.7 220.1,1339.3" fill="#008000" fill-opacity="0.2" stroke="#008000" stroke-opacity="0.2" stroke-width="1"/>
<polygon points="67.7,1271.2 89.5,1277.5 111.2,1285.0 133.0,1283.2 154.8,1291.2 176.5,1290.5 198.3,1290.0 220.1,1305.5 241.8,1299.0 263.6,1285.5 285.4,1250.5 307.1,1238.8 328.9,1207.5 350.6,1185.0 372.4,1175.0 394.2,1164.5 415.9,1158.8 437.7,1155.5 459.5,1168.0 481.2,1182.0 503.0,1166.2 524.8,1193.8 546.5,1230.0 568.3,1253.8 568.3,1312.5 546.5,1307.5 524.8,1286.2 503.0,1267.5 481.2,1257.5 459.5,1251.2 437.7,1218.0 415.9,1217.5 394.2,1224.0 372.4,1235.0 350.6,1248.0 328.9,1270.0 307.1,1288.0 285.4,1302.0 263.6,1311.0 241.8,1324.0 220.1,1332.0 198.3,1329.5 176.5,1334.5 154.8,1333.2 133.0,1338.0 111.2,1323.0 89.5,1335.5 67.7,1317.0" fill="#ff0000" fill-opacity="0.2" stroke="#ff0000" stroke-opacity="0.2" stroke-width="1"/>
<polyline points="220.1,1279.0 241.8,1280.8 263.6,1271.0 285.4,1261.5 307.1,1270.0 328.9,1272.0 350.6,1265.5 372.4,1268.0 394.2,1281.0 415.9,1279.0 437.7,1261.5 459.5,1294.5" fill="none" stroke="#808080" stroke-width="1.3" stroke-linejoin="round"/>
<polyline points="67.7,1294.5 89.5,1307.0 111.2,1304.2 133.0,1310.8 154.8,1312.0 176.5,1312.0 198.3,1308.0 220.1,1318.5 241.8,1311.0 263.6,1298.0 285.4,1275.5 307.1,1263.0 328.9,1239.0 350.6,1216.2 372.4,1205.0 394.2,1193.8 415.9,1187.5 437.7,1186.2 459.5,1212.5 481.2,1220.0 503.0,1216.2 524.8,1243.8 546.5,1269.5 568.3,1283.8" fill="none" stroke="#ff0000" stroke-width="1.4" stroke-linejoin="round"/>
<polyline points="220.1,1328.0 241.8,1326.5 263.6,1322.5 285.4,1321.5 307.1,1302.0 328.9,1294.6 350.6,1297.0 372.4,1297.5 394.2,1306.2 415.9,1311.2 437.7,1320.8 459.5,1317.5" fill="none" stroke="#0000ff" stroke-width="1.6" stroke-linejoin="round"/>
<polyline points="220.1,1323.0 241.8,1322.8 263.6,1319.5 285.4,1315.5 307.1,1300.0 328.9,1290.2 350.6,1290.5 372.4,1291.5 394.2,1299.5 415.9,1305.0 437.7,1312.0 459.5,1306.2" fill="none" stroke="#008000" stroke-width="1.6" stroke-linejoin="round"/>
</g>
<polygon points="198.3,1173.3 192.7,1183.9 203.9,1183.9" fill="#ff0000"/>
<path d="M198.3,1168.0V1189.0" stroke="#222" stroke-width="0.9" fill="none"/>
<path d="M196.7,1168.0H199.9M196.7,1189.0H199.9" stroke="#000" stroke-width="1" fill="none"/>
<polygon points="198.3,1316.9 192.7,1306.3 203.9,1306.3" fill="#0000ff"/>
<path d="M198.3,1297.5V1328.0" stroke="#222" stroke-width="0.9" fill="none"/>
<path d="M196.7,1297.5H199.9M196.7,1328.0H199.9" stroke="#000" stroke-width="1" fill="none"/>
<polygon points="459.5,1188.7 453.9,1199.3 465.1,1199.3" fill="#ff0000"/>
<path d="M459.5,1163.8V1222.5" stroke="#222" stroke-width="0.9" fill="none"/>
<path d="M457.9,1163.8H461.1M457.9,1222.5H461.1" stroke="#000" stroke-width="1" fill="none"/>
<polygon points="459.5,1311.9 453.9,1301.3 465.1,1301.3" fill="#0000ff"/>
<path d="M459.5,1292.5V1322.5" stroke="#222" stroke-width="0.9" fill="none"/>
<path d="M457.9,1292.5H461.1M457.9,1322.5H461.1" stroke="#000" stroke-width="1" fill="none"/>
<g clip-path="url(#clip11)">
<polygon points="786.4,1296.2 808.1,1296.2 829.9,1293.0 851.7,1290.0 873.4,1290.0 895.2,1284.0 916.9,1279.5 938.7,1293.8 960.5,1299.5 982.2,1286.2 1004.0,1278.8 1025.8,1302.0 1025.8,1347.5 1004.0,1337.5 982.2,1336.8 960.5,1338.5 938.7,1337.8 916.9,1336.5 895.2,1343.0 873.4,1340.5 851.7,1342.5 829.9,1340.0 808.1,1343.0 786.4,1342.5" fill="#0000ff" fill-opacity="0.2" stroke="#0000ff" stroke-opacity="0.2" stroke-width="1"/>
<polygon points="786.4,1296.2 808.1,1275.5 829.9,1290.0 851.7,1280.0 873.4,1283.8 895.2,1275.0 916.9,1273.5 938.7,1285.0 960.5,1285.0 982.2,1283.8 1004.0,1271.2 1025.8,1270.0 1025.8,1347.5 1004.0,1336.2 982.2,1336.2 960.5,1337.0 938.7,1337.0 916.9,1335.0 895.2,1341.2 873.4,1338.8 851.7,1341.2 829.9,1338.8 808.1,1342.5 786.4,1341.2" fill="#008000" fill-opacity="0.2" stroke="#008000" stroke-opacity="0.2" stroke-width="1"/>
<polygon points="634.0,1255.0 655.8,1279.5 677.5,1278.8 699.3,1278.8 721.1,1300.0 742.8,1308.0 764.6,1309.5 786.4,1306.2 808.1,1286.2 829.9,1281.2 851.7,1270.0 873.4,1249.4 895.2,1225.0 916.9,1190.0 938.7,1179.5 960.5,1180.5 982.2,1170.0 1004.0,1161.2 1025.8,1171.2 1047.5,1188.8 1069.3,1196.2 1091.1,1179.5 1112.8,1203.8 1134.6,1246.2 1134.6,1316.2 1112.8,1306.2 1091.1,1292.0 1069.3,1294.5 1047.5,1282.5 1025.8,1267.5 1004.0,1224.5 982.2,1237.0 960.5,1237.5 938.7,1238.8 916.9,1262.5 895.2,1283.8 873.4,1292.5 851.7,1305.0 829.9,1313.8 808.1,1326.2 786.4,1329.5 764.6,1331.2 742.8,1333.0 721.1,1329.5 699.3,1337.5 677.5,1335.5 655.8,1332.0 634.0,1330.0" fill="#ff0000" fill-opacity="0.2" stroke="#ff0000" stroke-opacity="0.2" stroke-width="1"/>
<polyline points="786.4,1274.5 808.1,1278.0 829.9,1280.5 851.7,1283.8 873.4,1277.0 895.2,1274.5 916.9,1292.0 938.7,1285.0 960.5,1274.5 982.2,1290.0 1004.0,1281.2 1025.8,1302.0" fill="none" stroke="#808080" stroke-width="1.3" stroke-linejoin="round"/>
<polyline points="634.0,1292.5 655.8,1306.2 677.5,1307.0 699.3,1308.0 721.1,1313.8 742.8,1320.8 764.6,1320.8 786.4,1318.2 808.1,1306.2 829.9,1299.2 851.7,1288.8 873.4,1271.9 895.2,1253.8 916.9,1225.0 938.7,1209.2 960.5,1208.8 982.2,1203.2 1004.0,1192.5 1025.8,1219.5 1047.5,1235.5 1069.3,1245.0 1091.1,1235.0 1112.8,1256.2 1134.6,1283.8" fill="none" stroke="#ff0000" stroke-width="1.4" stroke-linejoin="round"/>
<polyline points="786.4,1318.8 808.1,1318.8 829.9,1316.2 851.7,1316.2 873.4,1315.5 895.2,1312.5 916.9,1308.2 938.7,1315.8 960.5,1318.8 982.2,1312.0 1004.0,1307.5 1025.8,1324.5" fill="none" stroke="#0000ff" stroke-width="1.6" stroke-linejoin="round"/>
<polyline points="786.4,1318.0 808.1,1309.2 829.9,1315.0 851.7,1310.8 873.4,1307.5 895.2,1308.0 916.9,1303.8 938.7,1311.2 960.5,1310.5 982.2,1308.8 1004.0,1304.5 1025.8,1308.0" fill="none" stroke="#008000" stroke-width="1.6" stroke-linejoin="round"/>
</g>
<polygon points="764.6,1169.0 759.0,1179.6 770.2,1179.6" fill="#ff0000"/>
<path d="M764.6,1168.5V1174.8" stroke="#222" stroke-width="0.9" fill="none"/>
<path d="M763.0,1168.5H766.2" stroke="#000" stroke-width="1" fill="none"/>
<polygon points="764.6,1317.8 759.0,1307.2 770.2,1307.2" fill="#0000ff"/>
<path d="M764.6,1301.8V1323.2" stroke="#222" stroke-width="0.9" fill="none"/>
<path d="M763.0,1301.8H766.2M763.0,1323.2H766.2" stroke="#000" stroke-width="1" fill="none"/>
<polygon points="1025.8,1164.2 1020.2,1174.8 1031.4,1174.8" fill="#ff0000"/>
<path d="M1025.8,1163.6V1170.0" stroke="#222" stroke-width="0.9" fill="none"/>
<path d="M1024.2,1163.6H1027.4" stroke="#000" stroke-width="1" fill="none"/>
<polygon points="1025.8,1313.3 1020.2,1302.7 1031.4,1302.7" fill="#0000ff"/>
<path d="M1025.8,1293.8V1322.5" stroke="#222" stroke-width="0.9" fill="none"/>
<path d="M1024.2,1293.8H1027.4M1024.2,1322.5H1027.4" stroke="#000" stroke-width="1" fill="none"/>
<rect x="71" y="62" width="216.5" height="93.2" fill="#fff"/>
<rect x="73.5" y="63.5" width="209.8" height="87.6" rx="2" fill="#fff" stroke="#d9d9d9" stroke-width="1"/>
<line x1="76.8" y1="73" x2="100" y2="73" stroke="#0000ff" stroke-width="1.7"/>
<line x1="76.8" y1="90.6" x2="100" y2="90.6" stroke="#008000" stroke-width="1.7"/>
<line x1="76.8" y1="107.8" x2="100" y2="107.8" stroke="#ff0000" stroke-width="1.7"/>
<polygon points="81.8,118.1 95.2,118.1 88.5,131.4" fill="#0000ff"/>
<polygon points="82,147 95,147 88.5,133.5" fill="#ff0000"/>
<line x1="67.7" y1="25.3" x2="67.7" y2="220.5" stroke="#3a3a3a" stroke-width="1"/>
<line x1="568.3" y1="25.3" x2="568.3" y2="220.5" stroke="#aaa" stroke-width="1"/>
<line x1="67.20" y1="25.3" x2="568.80" y2="25.3" stroke="#111" stroke-width="1"/>
<line x1="67.20" y1="220.5" x2="568.80" y2="220.5" stroke="#3a3a3a" stroke-width="1"/>
<line x1="65.10" y1="220.50" x2="67.70" y2="220.50" stroke="#333" stroke-width="1"/>
<line x1="65.10" y1="189.02" x2="67.70" y2="189.02" stroke="#333" stroke-width="1"/>
<line x1="65.10" y1="157.53" x2="67.70" y2="157.53" stroke="#333" stroke-width="1"/>
<line x1="65.10" y1="126.05" x2="67.70" y2="126.05" stroke="#333" stroke-width="1"/>
<line x1="65.10" y1="94.56" x2="67.70" y2="94.56" stroke="#333" stroke-width="1"/>
<line x1="65.10" y1="63.08" x2="67.70" y2="63.08" stroke="#333" stroke-width="1"/>
<line x1="65.10" y1="31.60" x2="67.70" y2="31.60" stroke="#333" stroke-width="1"/>
<line x1="67.70" y1="220.50" x2="67.70" y2="223.70" stroke="#333" stroke-width="1"/>
<line x1="176.53" y1="220.50" x2="176.53" y2="223.70" stroke="#333" stroke-width="1"/>
<line x1="285.35" y1="220.50" x2="285.35" y2="223.70" stroke="#333" stroke-width="1"/>
<line x1="394.18" y1="220.50" x2="394.18" y2="223.70" stroke="#333" stroke-width="1"/>
<line x1="503.00" y1="220.50" x2="503.00" y2="223.70" stroke="#333" stroke-width="1"/>
<line x1="634.0" y1="25.3" x2="634.0" y2="220.5" stroke="#333" stroke-width="1"/>
<line x1="1134.50" y1="25.3" x2="1134.50" y2="220.5" stroke="#888" stroke-width="1"/>
<line x1="633.50" y1="25.3" x2="1135.10" y2="25.3" stroke="#111" stroke-width="1"/>
<line x1="633.50" y1="220.5" x2="1135.10" y2="220.5" stroke="#3a3a3a" stroke-width="1"/>
<line x1="631.40" y1="220.50" x2="634.00" y2="220.50" stroke="#333" stroke-width="1"/>
<line x1="631.40" y1="189.02" x2="634.00" y2="189.02" stroke="#333" stroke-width="1"/>
<line x1="631.40" y1="157.53" x2="634.00" y2="157.53" stroke="#333" stroke-width="1"/>
<line x1="631.40" y1="126.05" x2="634.00" y2="126.05" stroke="#333" stroke-width="1"/>
<line x1="631.40" y1="94.56" x2="634.00" y2="94.56" stroke="#333" stroke-width="1"/>
<line x1="631.40" y1="63.08" x2="634.00" y2="63.08" stroke="#333" stroke-width="1"/>
<line x1="631.40" y1="31.60" x2="634.00" y2="31.60" stroke="#333" stroke-width="1"/>
<line x1="634.00" y1="220.50" x2="634.00" y2="223.70" stroke="#333" stroke-width="1"/>
<line x1="742.83" y1="220.50" x2="742.83" y2="223.70" stroke="#333" stroke-width="1"/>
<line x1="851.65" y1="220.50" x2="851.65" y2="223.70" stroke="#333" stroke-width="1"/>
<line x1="960.48" y1="220.50" x2="960.48" y2="223.70" stroke="#333" stroke-width="1"/>
<line x1="1069.30" y1="220.50" x2="1069.30" y2="223.70" stroke="#333" stroke-width="1"/>
<line x1="1134.60" y1="220.50" x2="1137.60" y2="220.50" stroke="#222" stroke-width="1"/>
<line x1="1134.60" y1="181.46" x2="1137.60" y2="181.46" stroke="#222" stroke-width="1"/>
<line x1="1134.60" y1="142.42" x2="1137.60" y2="142.42" stroke="#222" stroke-width="1"/>
<line x1="1134.60" y1="103.38" x2="1137.60" y2="103.38" stroke="#222" stroke-width="1"/>
<line x1="1134.60" y1="64.34" x2="1137.60" y2="64.34" stroke="#222" stroke-width="1"/>
<line x1="1134.60" y1="25.30" x2="1137.60" y2="25.30" stroke="#222" stroke-width="1"/>
<line x1="67.7" y1="251.5" x2="67.7" y2="446.4" stroke="#3a3a3a" stroke-width="1"/>
<line x1="568.3" y1="251.5" x2="568.3" y2="446.4" stroke="#aaa" stroke-width="1"/>
<line x1="67.20" y1="251.5" x2="568.80" y2="251.5" stroke="#111" stroke-width="1"/>
<line x1="67.20" y1="446.4" x2="568.80" y2="446.4" stroke="#3a3a3a" stroke-width="1"/>
<line x1="65.10" y1="446.40" x2="67.70" y2="446.40" stroke="#333" stroke-width="1"/>
<line x1="65.10" y1="414.96" x2="67.70" y2="414.96" stroke="#333" stroke-width="1"/>
<line x1="65.10" y1="383.53" x2="67.70" y2="383.53" stroke="#333" stroke-width="1"/>
<line x1="65.10" y1="352.09" x2="67.70" y2="352.09" stroke="#333" stroke-width="1"/>
<line x1="65.10" y1="320.66" x2="67.70" y2="320.66" stroke="#333" stroke-width="1"/>
<line x1="65.10" y1="289.22" x2="67.70" y2="289.22" stroke="#333" stroke-width="1"/>
<line x1="65.10" y1="257.79" x2="67.70" y2="257.79" stroke="#333" stroke-width="1"/>
<line x1="67.70" y1="446.40" x2="67.70" y2="449.60" stroke="#333" stroke-width="1"/>
<line x1="176.53" y1="446.40" x2="176.53" y2="449.60" stroke="#333" stroke-width="1"/>
<line x1="285.35" y1="446.40" x2="285.35" y2="449.60" stroke="#333" stroke-width="1"/>
<line x1="394.18" y1="446.40" x2="394.18" y2="449.60" stroke="#333" stroke-width="1"/>
<line x1="503.00" y1="446.40" x2="503.00" y2="449.60" stroke="#333" stroke-width="1"/>
<line x1="634.0" y1="251.5" x2="634.0" y2="446.4" stroke="#333" stroke-width="1"/>
<line x1="1134.50" y1="251.5" x2="1134.50" y2="446.4" stroke="#888" stroke-width="1"/>
<line x1="633.50" y1="251.5" x2="1135.10" y2="251.5" stroke="#111" stroke-width="1"/>
<line x1="633.50" y1="446.4" x2="1135.10" y2="446.4" stroke="#3a3a3a" stroke-width="1"/>
<line x1="631.40" y1="446.40" x2="634.00" y2="446.40" stroke="#333" stroke-width="1"/>
<line x1="631.40" y1="414.96" x2="634.00" y2="414.96" stroke="#333" stroke-width="1"/>
<line x1="631.40" y1="383.53" x2="634.00" y2="383.53" stroke="#333" stroke-width="1"/>
<line x1="631.40" y1="352.09" x2="634.00" y2="352.09" stroke="#333" stroke-width="1"/>
<line x1="631.40" y1="320.66" x2="634.00" y2="320.66" stroke="#333" stroke-width="1"/>
<line x1="631.40" y1="289.22" x2="634.00" y2="289.22" stroke="#333" stroke-width="1"/>
<line x1="631.40" y1="257.79" x2="634.00" y2="257.79" stroke="#333" stroke-width="1"/>
<line x1="634.00" y1="446.40" x2="634.00" y2="449.60" stroke="#333" stroke-width="1"/>
<line x1="742.83" y1="446.40" x2="742.83" y2="449.60" stroke="#333" stroke-width="1"/>
<line x1="851.65" y1="446.40" x2="851.65" y2="449.60" stroke="#333" stroke-width="1"/>
<line x1="960.48" y1="446.40" x2="960.48" y2="449.60" stroke="#333" stroke-width="1"/>
<line x1="1069.30" y1="446.40" x2="1069.30" y2="449.60" stroke="#333" stroke-width="1"/>
<line x1="1134.60" y1="446.40" x2="1137.60" y2="446.40" stroke="#222" stroke-width="1"/>
<line x1="1134.60" y1="407.42" x2="1137.60" y2="407.42" stroke="#222" stroke-width="1"/>
<line x1="1134.60" y1="368.44" x2="1137.60" y2="368.44" stroke="#222" stroke-width="1"/>
<line x1="1134.60" y1="329.46" x2="1137.60" y2="329.46" stroke="#222" stroke-width="1"/>
<line x1="1134.60" y1="290.48" x2="1137.60" y2="290.48" stroke="#222" stroke-width="1"/>
<line x1="1134.60" y1="251.50" x2="1137.60" y2="251.50" stroke="#222" stroke-width="1"/>
<line x1="67.7" y1="477.6" x2="67.7" y2="672.9" stroke="#3a3a3a" stroke-width="1"/>
<line x1="568.3" y1="477.6" x2="568.3" y2="672.9" stroke="#aaa" stroke-width="1"/>
<line x1="67.20" y1="477.6" x2="568.80" y2="477.6" stroke="#111" stroke-width="1"/>
<line x1="67.20" y1="672.9" x2="568.80" y2="672.9" stroke="#3a3a3a" stroke-width="1"/>
<line x1="65.10" y1="672.90" x2="67.70" y2="672.90" stroke="#333" stroke-width="1"/>
<line x1="65.10" y1="641.40" x2="67.70" y2="641.40" stroke="#333" stroke-width="1"/>
<line x1="65.10" y1="609.90" x2="67.70" y2="609.90" stroke="#333" stroke-width="1"/>
<line x1="65.10" y1="578.40" x2="67.70" y2="578.40" stroke="#333" stroke-width="1"/>
<line x1="65.10" y1="546.90" x2="67.70" y2="546.90" stroke="#333" stroke-width="1"/>
<line x1="65.10" y1="515.40" x2="67.70" y2="515.40" stroke="#333" stroke-width="1"/>
<line x1="65.10" y1="483.90" x2="67.70" y2="483.90" stroke="#333" stroke-width="1"/>
<line x1="67.70" y1="672.90" x2="67.70" y2="676.10" stroke="#333" stroke-width="1"/>
<line x1="176.53" y1="672.90" x2="176.53" y2="676.10" stroke="#333" stroke-width="1"/>
<line x1="285.35" y1="672.90" x2="285.35" y2="676.10" stroke="#333" stroke-width="1"/>
<line x1="394.18" y1="672.90" x2="394.18" y2="676.10" stroke="#333" stroke-width="1"/>
<line x1="503.00" y1="672.90" x2="503.00" y2="676.10" stroke="#333" stroke-width="1"/>
<line x1="634.0" y1="477.6" x2="634.0" y2="672.9" stroke="#333" stroke-width="1"/>
<line x1="1134.50" y1="477.6" x2="1134.50" y2="672.9" stroke="#888" stroke-width="1"/>
<line x1="633.50" y1="477.6" x2="1135.10" y2="477.6" stroke="#111" stroke-width="1"/>
<line x1="633.50" y1="672.9" x2="1135.10" y2="672.9" stroke="#3a3a3a" stroke-width="1"/>
<line x1="631.40" y1="672.90" x2="634.00" y2="672.90" stroke="#333" stroke-width="1"/>
<line x1="631.40" y1="641.40" x2="634.00" y2="641.40" stroke="#333" stroke-width="1"/>
<line x1="631.40" y1="609.90" x2="634.00" y2="609.90" stroke="#333" stroke-width="1"/>
<line x1="631.40" y1="578.40" x2="634.00" y2="578.40" stroke="#333" stroke-width="1"/>
<line x1="631.40" y1="546.90" x2="634.00" y2="546.90" stroke="#333" stroke-width="1"/>
<line x1="631.40" y1="515.40" x2="634.00" y2="515.40" stroke="#333" stroke-width="1"/>
<line x1="631.40" y1="483.90" x2="634.00" y2="483.90" stroke="#333" stroke-width="1"/>
<line x1="634.00" y1="672.90" x2="634.00" y2="676.10" stroke="#333" stroke-width="1"/>
<line x1="742.83" y1="672.90" x2="742.83" y2="676.10" stroke="#333" stroke-width="1"/>
<line x1="851.65" y1="672.90" x2="851.65" y2="676.10" stroke="#333" stroke-width="1"/>
<line x1="960.48" y1="672.90" x2="960.48" y2="676.10" stroke="#333" stroke-width="1"/>
<line x1="1069.30" y1="672.90" x2="1069.30" y2="676.10" stroke="#333" stroke-width="1"/>
<line x1="1134.60" y1="672.90" x2="1137.60" y2="672.90" stroke="#222" stroke-width="1"/>
<line x1="1134.60" y1="633.84" x2="1137.60" y2="633.84" stroke="#222" stroke-width="1"/>
<line x1="1134.60" y1="594.78" x2="1137.60" y2="594.78" stroke="#222" stroke-width="1"/>
<line x1="1134.60" y1="555.72" x2="1137.60" y2="555.72" stroke="#222" stroke-width="1"/>
<line x1="1134.60" y1="516.66" x2="1137.60" y2="516.66" stroke="#222" stroke-width="1"/>
<line x1="1134.60" y1="477.60" x2="1137.60" y2="477.60" stroke="#222" stroke-width="1"/>
<line x1="67.7" y1="704.4" x2="67.7" y2="899.2" stroke="#3a3a3a" stroke-width="1"/>
<line x1="568.3" y1="704.4" x2="568.3" y2="899.2" stroke="#aaa" stroke-width="1"/>
<line x1="67.20" y1="704.4" x2="568.80" y2="704.4" stroke="#111" stroke-width="1"/>
<line x1="67.20" y1="899.2" x2="568.80" y2="899.2" stroke="#3a3a3a" stroke-width="1"/>
<line x1="65.10" y1="899.20" x2="67.70" y2="899.20" stroke="#333" stroke-width="1"/>
<line x1="65.10" y1="867.78" x2="67.70" y2="867.78" stroke="#333" stroke-width="1"/>
<line x1="65.10" y1="836.36" x2="67.70" y2="836.36" stroke="#333" stroke-width="1"/>
<line x1="65.10" y1="804.94" x2="67.70" y2="804.94" stroke="#333" stroke-width="1"/>
<line x1="65.10" y1="773.52" x2="67.70" y2="773.52" stroke="#333" stroke-width="1"/>
<line x1="65.10" y1="742.10" x2="67.70" y2="742.10" stroke="#333" stroke-width="1"/>
<line x1="65.10" y1="710.68" x2="67.70" y2="710.68" stroke="#333" stroke-width="1"/>
<line x1="67.70" y1="899.20" x2="67.70" y2="902.40" stroke="#333" stroke-width="1"/>
<line x1="176.53" y1="899.20" x2="176.53" y2="902.40" stroke="#333" stroke-width="1"/>
<line x1="285.35" y1="899.20" x2="285.35" y2="902.40" stroke="#333" stroke-width="1"/>
<line x1="394.18" y1="899.20" x2="394.18" y2="902.40" stroke="#333" stroke-width="1"/>
<line x1="503.00" y1="899.20" x2="503.00" y2="902.40" stroke="#333" stroke-width="1"/>
<line x1="634.0" y1="704.4" x2="634.0" y2="899.2" stroke="#333" stroke-width="1"/>
<line x1="1134.50" y1="704.4" x2="1134.50" y2="899.2" stroke="#888" stroke-width="1"/>
<line x1="633.50" y1="704.4" x2="1135.10" y2="704.4" stroke="#111" stroke-width="1"/>
<line x1="633.50" y1="899.2" x2="1135.10" y2="899.2" stroke="#3a3a3a" stroke-width="1"/>
<line x1="631.40" y1="899.20" x2="634.00" y2="899.20" stroke="#333" stroke-width="1"/>
<line x1="631.40" y1="867.78" x2="634.00" y2="867.78" stroke="#333" stroke-width="1"/>
<line x1="631.40" y1="836.36" x2="634.00" y2="836.36" stroke="#333" stroke-width="1"/>
<line x1="631.40" y1="804.94" x2="634.00" y2="804.94" stroke="#333" stroke-width="1"/>
<line x1="631.40" y1="773.52" x2="634.00" y2="773.52" stroke="#333" stroke-width="1"/>
<line x1="631.40" y1="742.10" x2="634.00" y2="742.10" stroke="#333" stroke-width="1"/>
<line x1="631.40" y1="710.68" x2="634.00" y2="710.68" stroke="#333" stroke-width="1"/>
<line x1="634.00" y1="899.20" x2="634.00" y2="902.40" stroke="#333" stroke-width="1"/>
<line x1="742.83" y1="899.20" x2="742.83" y2="902.40" stroke="#333" stroke-width="1"/>
<line x1="851.65" y1="899.20" x2="851.65" y2="902.40" stroke="#333" stroke-width="1"/>
<line x1="960.48" y1="899.20" x2="960.48" y2="902.40" stroke="#333" stroke-width="1"/>
<line x1="1069.30" y1="899.20" x2="1069.30" y2="902.40" stroke="#333" stroke-width="1"/>
<line x1="1134.60" y1="899.20" x2="1137.60" y2="899.20" stroke="#222" stroke-width="1"/>
<line x1="1134.60" y1="860.24" x2="1137.60" y2="860.24" stroke="#222" stroke-width="1"/>
<line x1="1134.60" y1="821.28" x2="1137.60" y2="821.28" stroke="#222" stroke-width="1"/>
<line x1="1134.60" y1="782.32" x2="1137.60" y2="782.32" stroke="#222" stroke-width="1"/>
<line x1="1134.60" y1="743.36" x2="1137.60" y2="743.36" stroke="#222" stroke-width="1"/>
<line x1="1134.60" y1="704.40" x2="1137.60" y2="704.40" stroke="#222" stroke-width="1"/>
<line x1="67.7" y1="930.4" x2="67.7" y2="1124.3" stroke="#3a3a3a" stroke-width="1"/>
<line x1="568.3" y1="930.4" x2="568.3" y2="1124.3" stroke="#aaa" stroke-width="1"/>
<line x1="67.20" y1="930.4" x2="568.80" y2="930.4" stroke="#111" stroke-width="1"/>
<line x1="67.20" y1="1124.3" x2="568.80" y2="1124.3" stroke="#3a3a3a" stroke-width="1"/>
<line x1="65.10" y1="1124.30" x2="67.70" y2="1124.30" stroke="#333" stroke-width="1"/>
<line x1="65.10" y1="1093.03" x2="67.70" y2="1093.03" stroke="#333" stroke-width="1"/>
<line x1="65.10" y1="1061.75" x2="67.70" y2="1061.75" stroke="#333" stroke-width="1"/>
<line x1="65.10" y1="1030.48" x2="67.70" y2="1030.48" stroke="#333" stroke-width="1"/>
<line x1="65.10" y1="999.20" x2="67.70" y2="999.20" stroke="#333" stroke-width="1"/>
<line x1="65.10" y1="967.93" x2="67.70" y2="967.93" stroke="#333" stroke-width="1"/>
<line x1="65.10" y1="936.65" x2="67.70" y2="936.65" stroke="#333" stroke-width="1"/>
<line x1="67.70" y1="1124.30" x2="67.70" y2="1127.50" stroke="#333" stroke-width="1"/>
<line x1="176.53" y1="1124.30" x2="176.53" y2="1127.50" stroke="#333" stroke-width="1"/>
<line x1="285.35" y1="1124.30" x2="285.35" y2="1127.50" stroke="#333" stroke-width="1"/>
<line x1="394.18" y1="1124.30" x2="394.18" y2="1127.50" stroke="#333" stroke-width="1"/>
<line x1="503.00" y1="1124.30" x2="503.00" y2="1127.50" stroke="#333" stroke-width="1"/>
<line x1="634.0" y1="930.4" x2="634.0" y2="1124.3" stroke="#333" stroke-width="1"/>
<line x1="1134.50" y1="930.4" x2="1134.50" y2="1124.3" stroke="#888" stroke-width="1"/>
<line x1="633.50" y1="930.4" x2="1135.10" y2="930.4" stroke="#111" stroke-width="1"/>
<line x1="633.50" y1="1124.3" x2="1135.10" y2="1124.3" stroke="#3a3a3a" stroke-width="1"/>
<line x1="631.40" y1="1124.30" x2="634.00" y2="1124.30" stroke="#333" stroke-width="1"/>
<line x1="631.40" y1="1093.03" x2="634.00" y2="1093.03" stroke="#333" stroke-width="1"/>
<line x1="631.40" y1="1061.75" x2="634.00" y2="1061.75" stroke="#333" stroke-width="1"/>
<line x1="631.40" y1="1030.48" x2="634.00" y2="1030.48" stroke="#333" stroke-width="1"/>
<line x1="631.40" y1="999.20" x2="634.00" y2="999.20" stroke="#333" stroke-width="1"/>
<line x1="631.40" y1="967.93" x2="634.00" y2="967.93" stroke="#333" stroke-width="1"/>
<line x1="631.40" y1="936.65" x2="634.00" y2="936.65" stroke="#333" stroke-width="1"/>
<line x1="634.00" y1="1124.30" x2="634.00" y2="1127.50" stroke="#333" stroke-width="1"/>
<line x1="742.83" y1="1124.30" x2="742.83" y2="1127.50" stroke="#333" stroke-width="1"/>
<line x1="851.65" y1="1124.30" x2="851.65" y2="1127.50" stroke="#333" stroke-width="1"/>
<line x1="960.48" y1="1124.30" x2="960.48" y2="1127.50" stroke="#333" stroke-width="1"/>
<line x1="1069.30" y1="1124.30" x2="1069.30" y2="1127.50" stroke="#333" stroke-width="1"/>
<line x1="1134.60" y1="1124.30" x2="1137.60" y2="1124.30" stroke="#222" stroke-width="1"/>
<line x1="1134.60" y1="1085.52" x2="1137.60" y2="1085.52" stroke="#222" stroke-width="1"/>
<line x1="1134.60" y1="1046.74" x2="1137.60" y2="1046.74" stroke="#222" stroke-width="1"/>
<line x1="1134.60" y1="1007.96" x2="1137.60" y2="1007.96" stroke="#222" stroke-width="1"/>
<line x1="1134.60" y1="969.18" x2="1137.60" y2="969.18" stroke="#222" stroke-width="1"/>
<line x1="1134.60" y1="930.40" x2="1137.60" y2="930.40" stroke="#222" stroke-width="1"/>
<line x1="67.7" y1="1155.6" x2="67.7" y2="1350.9" stroke="#3a3a3a" stroke-width="1"/>
<line x1="568.3" y1="1155.6" x2="568.3" y2="1350.9" stroke="#aaa" stroke-width="1"/>
<line x1="67.20" y1="1155.6" x2="568.80" y2="1155.6" stroke="#111" stroke-width="1"/>
<line x1="67.20" y1="1350.9" x2="568.80" y2="1350.9" stroke="#3a3a3a" stroke-width="1"/>
<line x1="65.10" y1="1350.90" x2="67.70" y2="1350.90" stroke="#333" stroke-width="1"/>
<line x1="65.10" y1="1319.40" x2="67.70" y2="1319.40" stroke="#333" stroke-width="1"/>
<line x1="65.10" y1="1287.90" x2="67.70" y2="1287.90" stroke="#333" stroke-width="1"/>
<line x1="65.10" y1="1256.40" x2="67.70" y2="1256.40" stroke="#333" stroke-width="1"/>
<line x1="65.10" y1="1224.90" x2="67.70" y2="1224.90" stroke="#333" stroke-width="1"/>
<line x1="65.10" y1="1193.40" x2="67.70" y2="1193.40" stroke="#333" stroke-width="1"/>
<line x1="65.10" y1="1161.90" x2="67.70" y2="1161.90" stroke="#333" stroke-width="1"/>
<line x1="67.70" y1="1350.90" x2="67.70" y2="1354.10" stroke="#333" stroke-width="1"/>
<line x1="176.53" y1="1350.90" x2="176.53" y2="1354.10" stroke="#333" stroke-width="1"/>
<line x1="285.35" y1="1350.90" x2="285.35" y2="1354.10" stroke="#333" stroke-width="1"/>
<line x1="394.18" y1="1350.90" x2="394.18" y2="1354.10" stroke="#333" stroke-width="1"/>
<line x1="503.00" y1="1350.90" x2="503.00" y2="1354.10" stroke="#333" stroke-width="1"/>
<line x1="634.0" y1="1155.6" x2="634.0" y2="1350.9" stroke="#333" stroke-width="1"/>
<line x1="1134.50" y1="1155.6" x2="1134.50" y2="1350.9" stroke="#888" stroke-width="1"/>
<line x1="633.50" y1="1155.6" x2="1135.10" y2="1155.6" stroke="#111" stroke-width="1"/>
<line x1="633.50" y1="1350.9" x2="1135.10" y2="1350.9" stroke="#3a3a3a" stroke-width="1"/>
<line x1="631.40" y1="1350.90" x2="634.00" y2="1350.90" stroke="#333" stroke-width="1"/>
<line x1="631.40" y1="1319.40" x2="634.00" y2="1319.40" stroke="#333" stroke-width="1"/>
<line x1="631.40" y1="1287.90" x2="634.00" y2="1287.90" stroke="#333" stroke-width="1"/>
<line x1="631.40" y1="1256.40" x2="634.00" y2="1256.40" stroke="#333" stroke-width="1"/>
<line x1="631.40" y1="1224.90" x2="634.00" y2="1224.90" stroke="#333" stroke-width="1"/>
<line x1="631.40" y1="1193.40" x2="634.00" y2="1193.40" stroke="#333" stroke-width="1"/>
<line x1="631.40" y1="1161.90" x2="634.00" y2="1161.90" stroke="#333" stroke-width="1"/>
<line x1="634.00" y1="1350.90" x2="634.00" y2="1354.10" stroke="#333" stroke-width="1"/>
<line x1="742.83" y1="1350.90" x2="742.83" y2="1354.10" stroke="#333" stroke-width="1"/>
<line x1="851.65" y1="1350.90" x2="851.65" y2="1354.10" stroke="#333" stroke-width="1"/>
<line x1="960.48" y1="1350.90" x2="960.48" y2="1354.10" stroke="#333" stroke-width="1"/>
<line x1="1069.30" y1="1350.90" x2="1069.30" y2="1354.10" stroke="#333" stroke-width="1"/>
<line x1="1134.60" y1="1350.90" x2="1137.60" y2="1350.90" stroke="#222" stroke-width="1"/>
<line x1="1134.60" y1="1311.84" x2="1137.60" y2="1311.84" stroke="#222" stroke-width="1"/>
<line x1="1134.60" y1="1272.78" x2="1137.60" y2="1272.78" stroke="#222" stroke-width="1"/>
<line x1="1134.60" y1="1233.72" x2="1137.60" y2="1233.72" stroke="#222" stroke-width="1"/>
<line x1="1134.60" y1="1194.66" x2="1137.60" y2="1194.66" stroke="#222" stroke-width="1"/>
<line x1="1134.60" y1="1155.60" x2="1137.60" y2="1155.60" stroke="#222" stroke-width="1"/>
<g filter="url(#desat)">
<text transform="translate(109.40,78.30) scale(0.1118,0.1146)" font-family="Liberation Serif" font-size="100" fill="#111" stroke="#111" stroke-width="2.650" stroke-linejoin="round" xml:space="preserve" >CBLH  Doppler  (</text>
<text transform="translate(190.00,78.30) scale(0.900,1)" font-family="Liberation Serif" font-size="12.5" fill="#111" stroke="#111" stroke-width="0.25" xml:space="preserve">σ</text>
<text transform="translate(199.70,71.10) scale(0.850,1)" font-family="Liberation Serif" font-size="8.5" fill="#111" stroke="#111" stroke-width="0.25" xml:space="preserve">2</text>
<text transform="translate(196.50,82.20) scale(0.900,1)" font-family="Liberation Serif" font-size="8.5" fill="#111" stroke="#111" stroke-width="0.25" xml:space="preserve">thld</text>
<text transform="translate(214.99,78.30) scale(0.1123,0.1146)" font-family="Liberation Serif" font-size="100" fill="#111" stroke="#111" stroke-width="2.644" stroke-linejoin="round" xml:space="preserve" >=0.2m</text>
<text transform="translate(244.60,73.10) scale(0.850,1)" font-family="Liberation Serif" font-size="7.5" fill="#111" stroke="#111" stroke-width="0.25" xml:space="preserve">2</text>
<text transform="translate(251.20,78.30) scale(0.900,1)" font-family="Liberation Serif" font-size="11.5" fill="#111" stroke="#111" stroke-width="0.25" xml:space="preserve">s</text>
<text transform="translate(254.00,73.10) scale(0.850,1)" font-family="Liberation Serif" font-size="7.5" fill="#111" stroke="#111" stroke-width="0.25" xml:space="preserve">−2</text>
<text transform="translate(261.80,78.30) scale(0.900,1)" font-family="Liberation Serif" font-size="11.5" fill="#111" stroke="#111" stroke-width="0.25" xml:space="preserve">)</text>
<text transform="translate(107.30,96.30) scale(0.1118,0.1146)" font-family="Liberation Serif" font-size="100" fill="#111" stroke="#111" stroke-width="2.650" stroke-linejoin="round" xml:space="preserve" >CBLH  Doppler  (</text>
<text transform="translate(187.90,96.30) scale(0.900,1)" font-family="Liberation Serif" font-size="12.5" fill="#111" stroke="#111" stroke-width="0.25" xml:space="preserve">σ</text>
<text transform="translate(197.60,89.10) scale(0.850,1)" font-family="Liberation Serif" font-size="8.5" fill="#111" stroke="#111" stroke-width="0.25" xml:space="preserve">2</text>
<text transform="translate(194.40,100.20) scale(0.900,1)" font-family="Liberation Serif" font-size="8.5" fill="#111" stroke="#111" stroke-width="0.25" xml:space="preserve">thld</text>
<text transform="translate(212.89,96.30) scale(0.1123,0.1146)" font-family="Liberation Serif" font-size="100" fill="#111" stroke="#111" stroke-width="2.644" stroke-linejoin="round" xml:space="preserve" >=0.1m</text>
<text transform="translate(242.50,91.10) scale(0.850,1)" font-family="Liberation Serif" font-size="7.5" fill="#111" stroke="#111" stroke-width="0.25" xml:space="preserve">2</text>
<text transform="translate(249.10,96.30) scale(0.900,1)" font-family="Liberation Serif" font-size="11.5" fill="#111" stroke="#111" stroke-width="0.25" xml:space="preserve">s</text>
<text transform="translate(251.90,91.10) scale(0.850,1)" font-family="Liberation Serif" font-size="7.5" fill="#111" stroke="#111" stroke-width="0.25" xml:space="preserve">−2</text>
<text transform="translate(259.70,96.30) scale(0.900,1)" font-family="Liberation Serif" font-size="11.5" fill="#111" stroke="#111" stroke-width="0.25" xml:space="preserve">)</text>
<text transform="translate(109.11,112.80) scale(0.1132,0.1146)" font-family="Liberation Serif" font-size="100" fill="#111" stroke="#111" stroke-width="2.634" stroke-linejoin="round" xml:space="preserve" >MLH  ceilometer</text>
<text transform="translate(109.39,129.10) scale(0.1146,0.1146)" font-family="Liberation Serif" font-size="100" fill="#111" stroke="#111" stroke-width="2.618" stroke-linejoin="round" xml:space="preserve" >dT/dz  ›0  lower  (radiosonde)</text>
<text transform="translate(108.49,144.70) scale(0.1145,0.1146)" font-family="Liberation Serif" font-size="100" fill="#111" stroke="#111" stroke-width="2.618" stroke-linejoin="round" xml:space="preserve" >dT/dz  ›0  upper  (radiosonde)</text>
<text transform="translate(-0.55,29.94) scale(0.3491,0.3564)" font-family="Liberation Sans" font-weight="bold" font-size="100" fill="#000" xml:space="preserve" >a</text>
<text transform="translate(604.00,38.16) scale(0.3860,0.3438)" font-family="Liberation Sans" font-weight="bold" font-size="100" fill="#000" xml:space="preserve" >b</text>
<text transform="translate(0.65,266.67) scale(0.3367,0.3273)" font-family="Liberation Sans" font-weight="bold" font-size="100" fill="#000" xml:space="preserve" >c</text>
<text transform="translate(604.05,266.66) scale(0.3627,0.3425)" font-family="Liberation Sans" font-weight="bold" font-size="100" fill="#000" xml:space="preserve" >d</text>
<text transform="translate(-0.50,495.66) scale(0.3750,0.3364)" font-family="Liberation Sans" font-weight="bold" font-size="100" fill="#000" xml:space="preserve" >e</text>
<text transform="translate(600.31,496.00) scale(0.3438,0.3472)" font-family="Liberation Sans" font-weight="bold" font-size="100" fill="#000" xml:space="preserve" >f</text>
<text transform="translate(0.06,720.36) scale(0.3600,0.3400)" font-family="Liberation Sans" font-weight="bold" font-size="100" fill="#000" xml:space="preserve" >g</text>
<text transform="translate(600.52,728.00) scale(0.3542,0.3472)" font-family="Liberation Sans" font-weight="bold" font-size="100" fill="#000" xml:space="preserve" >h</text>
<text transform="translate(0.00,944.00) scale(0.3571,0.3472)" font-family="Liberation Sans" font-weight="bold" font-size="100" fill="#000" xml:space="preserve" >i</text>
<text transform="translate(600.92,954.55) scale(0.3370,0.3548)" font-family="Liberation Sans" font-weight="bold" font-size="100" fill="#000" xml:space="preserve" >j</text>
<text transform="translate(-0.43,1166.00) scale(0.3469,0.3472)" font-family="Liberation Sans" font-weight="bold" font-size="100" fill="#000" xml:space="preserve" >k</text>
<text transform="translate(592.62,1165.75) scale(0.3750,0.3438)" font-family="Liberation Sans" font-weight="bold" font-size="100" fill="#000" xml:space="preserve" >l</text>
<text transform="translate(68.82,45.80) scale(0.2335,0.2504)" font-family="Liberation Serif" font-size="100" fill="#000" stroke="#000" stroke-width="1.860" stroke-linejoin="round" xml:space="preserve" >November 2018</text>
<text transform="translate(646.71,48.70) scale(0.2382,0.2458)" font-family="Liberation Serif" font-size="100" fill="#000" stroke="#000" stroke-width="1.859" stroke-linejoin="round" xml:space="preserve" >December 2018</text>
<text transform="translate(68.41,277.00) scale(0.2563,0.2581)" font-family="Liberation Serif" font-size="100" fill="#000" stroke="#000" stroke-width="1.750" stroke-linejoin="round" xml:space="preserve" >January 2019</text>
<text transform="translate(648.69,277.00) scale(0.2453,0.2458)" font-family="Liberation Serif" font-size="100" fill="#000" stroke="#000" stroke-width="1.833" stroke-linejoin="round" xml:space="preserve" >February 2019</text>
<text transform="translate(69.80,505.80) scale(0.2402,0.2519)" font-family="Liberation Serif" font-size="100" fill="#000" stroke="#000" stroke-width="1.829" stroke-linejoin="round" xml:space="preserve" >March 2019</text>
<text transform="translate(645.79,506.20) scale(0.2361,0.2458)" font-family="Liberation Serif" font-size="100" fill="#000" stroke="#000" stroke-width="1.868" stroke-linejoin="round" xml:space="preserve" >April 2019</text>
<text transform="translate(71.52,731.70) scale(0.2350,0.2488)" font-family="Liberation Serif" font-size="100" fill="#000" stroke="#000" stroke-width="1.860" stroke-linejoin="round" xml:space="preserve" >May 2019</text>
<text transform="translate(645.51,734.20) scale(0.2581,0.2458)" font-family="Liberation Serif" font-size="100" fill="#000" stroke="#000" stroke-width="1.786" stroke-linejoin="round" xml:space="preserve" >June 2019</text>
<text transform="translate(68.42,962.00) scale(0.2517,0.2458)" font-family="Liberation Serif" font-size="100" fill="#000" stroke="#000" stroke-width="1.809" stroke-linejoin="round" xml:space="preserve" >July 2019</text>
<text transform="translate(644.18,960.80) scale(0.2447,0.2519)" font-family="Liberation Serif" font-size="100" fill="#000" stroke="#000" stroke-width="1.812" stroke-linejoin="round" xml:space="preserve" >August 2019</text>
<text transform="translate(65.51,1188.30) scale(0.2449,0.2396)" font-family="Liberation Serif" font-size="100" fill="#000" stroke="#000" stroke-width="1.857" stroke-linejoin="round" xml:space="preserve" >September 2019</text>
<text transform="translate(647.56,1189.70) scale(0.2404,0.2535)" font-family="Liberation Serif" font-size="100" fill="#000" stroke="#000" stroke-width="1.823" stroke-linejoin="round" xml:space="preserve" >October 2019</text>
<text transform="translate(32.04,20.64) scale(0.1529,0.1612)" font-family="Liberation Serif" font-weight="normal" font-size="100" fill="#000" xml:space="preserve" >3000</text>
<text transform="translate(31.38,86.74) scale(0.1562,0.1597)" font-family="Liberation Serif" font-weight="normal" font-size="100" fill="#000" xml:space="preserve" >2000</text>
<text transform="translate(31.60,151.44) scale(0.1551,0.1582)" font-family="Liberation Serif" font-weight="normal" font-size="100" fill="#000" xml:space="preserve" >1000</text>
<text transform="translate(54.60,217.63) scale(0.1738,0.1672)" font-family="Liberation Serif" font-weight="normal" font-size="100" fill="#000" xml:space="preserve" >0</text>
<text transform="translate(15.72,100.09) rotate(-90) scale(0.2227,0.1988)" font-family="Liberation Serif" font-weight="normal" font-size="100" fill="#000" xml:space="preserve" >]</text>
<text transform="translate(16.00,115.56) rotate(-90) scale(0.1824,0.1766)" font-family="Liberation Serif" font-size="100" fill="#000" xml:space="preserve">m</text>
<text transform="translate(15.72,123.63) rotate(-90) scale(0.2043,0.1988)" font-family="Liberation Serif" font-weight="normal" font-size="100" fill="#000" xml:space="preserve" >[</text>
<text transform="translate(16.00,177.18) rotate(-90) scale(0.1810,0.1841)" font-family="Liberation Serif" font-size="100" fill="#000" xml:space="preserve">height</text>
<text transform="translate(1139.88,226.24) scale(0.1929,0.1612)" font-family="Liberation Serif" font-weight="normal" font-size="100" fill="#000" xml:space="preserve" >0</text>
<text transform="translate(1140.14,187.20) scale(0.1772,0.1612)" font-family="Liberation Serif" font-weight="normal" font-size="100" fill="#000" xml:space="preserve" >20</text>
<text transform="translate(1140.50,148.16) scale(0.1734,0.1612)" font-family="Liberation Serif" font-weight="normal" font-size="100" fill="#000" xml:space="preserve" >40</text>
<text transform="translate(1140.14,109.12) scale(0.1772,0.1612)" font-family="Liberation Serif" font-weight="normal" font-size="100" fill="#000" xml:space="preserve" >60</text>
<text transform="translate(1140.14,70.08) scale(0.1772,0.1612)" font-family="Liberation Serif" font-weight="normal" font-size="100" fill="#000" xml:space="preserve" >80</text>
<text transform="translate(1140.17,31.04) scale(0.1752,0.1612)" font-family="Liberation Serif" font-weight="normal" font-size="100" fill="#000" xml:space="preserve" >100</text>
<text transform="translate(1195.90,70.20) rotate(-90) scale(0.2000,0.2000)" font-family="Liberation Serif" font-weight="normal" font-size="100" fill="#000" xml:space="preserve" >]</text>
<text transform="translate(1196.63,81.88) rotate(-90) scale(0.1273,0.1731)" font-family="Liberation Serif" font-weight="normal" font-size="100" fill="#000" xml:space="preserve" >%</text>
<text transform="translate(1195.90,92.41) rotate(-90) scale(0.2304,0.2000)" font-family="Liberation Serif" font-weight="normal" font-size="100" fill="#000" xml:space="preserve" >[</text>
<text transform="translate(1196.80,178.93) rotate(-90) scale(0.1752,0.1841)" font-family="Liberation Serif" font-size="100" fill="#000" xml:space="preserve">availability</text>
<text transform="translate(64.17,243.30) scale(0.1690,0.2015)" font-family="Liberation Serif" font-weight="normal" font-size="100" fill="#000" xml:space="preserve" >0</text>
<text transform="translate(173.00,243.30) scale(0.1625,0.2045)" font-family="Liberation Serif" font-weight="normal" font-size="100" fill="#000" xml:space="preserve" >5</text>
<text transform="translate(279.39,243.30) scale(0.1517,0.2015)" font-family="Liberation Serif" font-weight="normal" font-size="100" fill="#000" xml:space="preserve" >10</text>
<text transform="translate(388.21,243.30) scale(0.1517,0.2045)" font-family="Liberation Serif" font-weight="normal" font-size="100" fill="#000" xml:space="preserve" >15</text>
<text transform="translate(497.83,243.30) scale(0.1435,0.2015)" font-family="Liberation Serif" font-weight="normal" font-size="100" fill="#000" xml:space="preserve" >20</text>
<text transform="translate(629.27,242.81) scale(0.1690,0.1940)" font-family="Liberation Serif" font-weight="normal" font-size="100" fill="#000" xml:space="preserve" >0</text>
<text transform="translate(738.10,242.80) scale(0.1625,0.1970)" font-family="Liberation Serif" font-weight="normal" font-size="100" fill="#000" xml:space="preserve" >5</text>
<text transform="translate(844.39,242.81) scale(0.1517,0.1940)" font-family="Liberation Serif" font-weight="normal" font-size="100" fill="#000" xml:space="preserve" >10</text>
<text transform="translate(953.21,242.80) scale(0.1517,0.1970)" font-family="Liberation Serif" font-weight="normal" font-size="100" fill="#000" xml:space="preserve" >15</text>
<text transform="translate(1062.83,242.81) scale(0.1435,0.1940)" font-family="Liberation Serif" font-weight="normal" font-size="100" fill="#000" xml:space="preserve" >20</text>
<text transform="translate(27.93,261.15) scale(0.1545,0.1522)" font-family="Liberation Serif" font-weight="normal" font-size="100" fill="#000" xml:space="preserve" >3000</text>
<text transform="translate(28.09,326.43) scale(0.1536,0.1672)" font-family="Liberation Serif" font-weight="normal" font-size="100" fill="#000" xml:space="preserve" >2000</text>
<text transform="translate(28.64,392.30) scale(0.1508,0.2015)" font-family="Liberation Serif" font-weight="normal" font-size="100" fill="#000" xml:space="preserve" >1000</text>
<text transform="translate(51.19,457.62) scale(0.1786,0.1761)" font-family="Liberation Serif" font-weight="normal" font-size="100" fill="#000" xml:space="preserve" >0</text>
<text transform="translate(15.73,319.59) rotate(-90) scale(0.2227,0.1976)" font-family="Liberation Serif" font-weight="normal" font-size="100" fill="#000" xml:space="preserve" >]</text>
<text transform="translate(16.00,335.06) rotate(-90) scale(0.1824,0.1766)" font-family="Liberation Serif" font-size="100" fill="#000" xml:space="preserve">m</text>
<text transform="translate(15.73,343.13) rotate(-90) scale(0.2043,0.1976)" font-family="Liberation Serif" font-weight="normal" font-size="100" fill="#000" xml:space="preserve" >[</text>
<text transform="translate(16.00,395.98) rotate(-90) scale(0.1782,0.1826)" font-family="Liberation Serif" font-size="100" fill="#000" xml:space="preserve">height</text>
<text transform="translate(1137.13,453.39) scale(0.1929,0.1612)" font-family="Liberation Serif" font-weight="normal" font-size="100" fill="#000" xml:space="preserve" >0</text>
<text transform="translate(1137.39,414.41) scale(0.1772,0.1612)" font-family="Liberation Serif" font-weight="normal" font-size="100" fill="#000" xml:space="preserve" >20</text>
<text transform="translate(1137.75,375.43) scale(0.1734,0.1612)" font-family="Liberation Serif" font-weight="normal" font-size="100" fill="#000" xml:space="preserve" >40</text>
<text transform="translate(1137.39,336.45) scale(0.1772,0.1612)" font-family="Liberation Serif" font-weight="normal" font-size="100" fill="#000" xml:space="preserve" >60</text>
<text transform="translate(1137.39,297.47) scale(0.1772,0.1612)" font-family="Liberation Serif" font-weight="normal" font-size="100" fill="#000" xml:space="preserve" >80</text>
<text transform="translate(1137.42,258.49) scale(0.1752,0.1612)" font-family="Liberation Serif" font-weight="normal" font-size="100" fill="#000" xml:space="preserve" >100</text>
<text transform="translate(1195.90,297.80) rotate(-90) scale(0.2000,0.2000)" font-family="Liberation Serif" font-weight="normal" font-size="100" fill="#000" xml:space="preserve" >]</text>
<text transform="translate(1196.63,309.48) rotate(-90) scale(0.1273,0.1731)" font-family="Liberation Serif" font-weight="normal" font-size="100" fill="#000" xml:space="preserve" >%</text>
<text transform="translate(1195.90,320.01) rotate(-90) scale(0.2304,0.2000)" font-family="Liberation Serif" font-weight="normal" font-size="100" fill="#000" xml:space="preserve" >[</text>
<text transform="translate(1196.80,406.53) rotate(-90) scale(0.1752,0.1841)" font-family="Liberation Serif" font-size="100" fill="#000" xml:space="preserve">availability</text>
<text transform="translate(65.77,466.59) scale(0.1690,0.2060)" font-family="Liberation Serif" font-weight="normal" font-size="100" fill="#000" xml:space="preserve" >0</text>
<text transform="translate(174.60,466.59) scale(0.1625,0.2091)" font-family="Liberation Serif" font-weight="normal" font-size="100" fill="#000" xml:space="preserve" >5</text>
<text transform="translate(280.79,466.59) scale(0.1517,0.2060)" font-family="Liberation Serif" font-weight="normal" font-size="100" fill="#000" xml:space="preserve" >10</text>
<text transform="translate(389.61,466.59) scale(0.1517,0.2091)" font-family="Liberation Serif" font-weight="normal" font-size="100" fill="#000" xml:space="preserve" >15</text>
<text transform="translate(499.23,466.59) scale(0.1435,0.2060)" font-family="Liberation Serif" font-weight="normal" font-size="100" fill="#000" xml:space="preserve" >20</text>
<text transform="translate(629.27,467.82) scale(0.1690,0.1791)" font-family="Liberation Serif" font-weight="normal" font-size="100" fill="#000" xml:space="preserve" >0</text>
<text transform="translate(738.10,467.82) scale(0.1625,0.1818)" font-family="Liberation Serif" font-weight="normal" font-size="100" fill="#000" xml:space="preserve" >5</text>
<text transform="translate(844.39,467.82) scale(0.1517,0.1791)" font-family="Liberation Serif" font-weight="normal" font-size="100" fill="#000" xml:space="preserve" >10</text>
<text transform="translate(953.21,467.82) scale(0.1517,0.1818)" font-family="Liberation Serif" font-weight="normal" font-size="100" fill="#000" xml:space="preserve" >15</text>
<text transform="translate(1062.83,467.82) scale(0.1435,0.1791)" font-family="Liberation Serif" font-weight="normal" font-size="100" fill="#000" xml:space="preserve" >20</text>
<text transform="translate(31.23,490.44) scale(0.1545,0.1582)" font-family="Liberation Serif" font-weight="normal" font-size="100" fill="#000" xml:space="preserve" >3000</text>
<text transform="translate(31.39,556.05) scale(0.1536,0.1478)" font-family="Liberation Serif" font-weight="normal" font-size="100" fill="#000" xml:space="preserve" >2000</text>
<text transform="translate(31.43,621.53) scale(0.1524,0.1701)" font-family="Liberation Serif" font-weight="normal" font-size="100" fill="#000" xml:space="preserve" >1000</text>
<text transform="translate(53.82,681.04) scale(0.1690,0.1642)" font-family="Liberation Serif" font-weight="normal" font-size="100" fill="#000" xml:space="preserve" >0</text>
<text transform="translate(19.83,551.79) rotate(-90) scale(0.2227,0.1976)" font-family="Liberation Serif" font-weight="normal" font-size="100" fill="#000" xml:space="preserve" >]</text>
<text transform="translate(20.10,567.26) rotate(-90) scale(0.1824,0.1766)" font-family="Liberation Serif" font-size="100" fill="#000" xml:space="preserve">m</text>
<text transform="translate(19.83,575.33) rotate(-90) scale(0.2043,0.1976)" font-family="Liberation Serif" font-weight="normal" font-size="100" fill="#000" xml:space="preserve" >[</text>
<text transform="translate(20.10,629.28) rotate(-90) scale(0.1827,0.1826)" font-family="Liberation Serif" font-size="100" fill="#000" xml:space="preserve">height</text>
<text transform="translate(1136.93,678.24) scale(0.1929,0.1612)" font-family="Liberation Serif" font-weight="normal" font-size="100" fill="#000" xml:space="preserve" >0</text>
<text transform="translate(1137.19,639.18) scale(0.1772,0.1612)" font-family="Liberation Serif" font-weight="normal" font-size="100" fill="#000" xml:space="preserve" >20</text>
<text transform="translate(1137.55,600.12) scale(0.1734,0.1612)" font-family="Liberation Serif" font-weight="normal" font-size="100" fill="#000" xml:space="preserve" >40</text>
<text transform="translate(1137.19,561.06) scale(0.1772,0.1612)" font-family="Liberation Serif" font-weight="normal" font-size="100" fill="#000" xml:space="preserve" >60</text>
<text transform="translate(1137.19,522.00) scale(0.1772,0.1612)" font-family="Liberation Serif" font-weight="normal" font-size="100" fill="#000" xml:space="preserve" >80</text>
<text transform="translate(1137.22,482.94) scale(0.1752,0.1612)" font-family="Liberation Serif" font-weight="normal" font-size="100" fill="#000" xml:space="preserve" >100</text>
<text transform="translate(1195.84,524.60) rotate(-90) scale(0.2000,0.2049)" font-family="Liberation Serif" font-weight="normal" font-size="100" fill="#000" xml:space="preserve" >]</text>
<text transform="translate(1196.62,536.28) rotate(-90) scale(0.1273,0.1791)" font-family="Liberation Serif" font-weight="normal" font-size="100" fill="#000" xml:space="preserve" >%</text>
<text transform="translate(1195.84,546.81) rotate(-90) scale(0.2304,0.2049)" font-family="Liberation Serif" font-weight="normal" font-size="100" fill="#000" xml:space="preserve" >[</text>
<text transform="translate(1196.80,632.52) rotate(-90) scale(0.1734,0.1899)" font-family="Liberation Serif" font-size="100" fill="#000" xml:space="preserve">availability</text>
<text transform="translate(62.47,693.40) scale(0.1690,0.2000)" font-family="Liberation Serif" font-weight="normal" font-size="100" fill="#000" xml:space="preserve" >0</text>
<text transform="translate(171.30,693.40) scale(0.1625,0.2030)" font-family="Liberation Serif" font-weight="normal" font-size="100" fill="#000" xml:space="preserve" >5</text>
<text transform="translate(277.59,693.40) scale(0.1517,0.2000)" font-family="Liberation Serif" font-weight="normal" font-size="100" fill="#000" xml:space="preserve" >10</text>
<text transform="translate(386.41,693.40) scale(0.1517,0.2030)" font-family="Liberation Serif" font-weight="normal" font-size="100" fill="#000" xml:space="preserve" >15</text>
<text transform="translate(496.03,693.40) scale(0.1435,0.2000)" font-family="Liberation Serif" font-weight="normal" font-size="100" fill="#000" xml:space="preserve" >20</text>
<text transform="translate(629.22,694.51) scale(0.1690,0.1896)" font-family="Liberation Serif" font-weight="normal" font-size="100" fill="#000" xml:space="preserve" >0</text>
<text transform="translate(738.05,694.51) scale(0.1625,0.1924)" font-family="Liberation Serif" font-weight="normal" font-size="100" fill="#000" xml:space="preserve" >5</text>
<text transform="translate(844.34,694.51) scale(0.1517,0.1896)" font-family="Liberation Serif" font-weight="normal" font-size="100" fill="#000" xml:space="preserve" >10</text>
<text transform="translate(953.16,694.51) scale(0.1517,0.1924)" font-family="Liberation Serif" font-weight="normal" font-size="100" fill="#000" xml:space="preserve" >15</text>
<text transform="translate(1062.78,694.51) scale(0.1435,0.1896)" font-family="Liberation Serif" font-weight="normal" font-size="100" fill="#000" xml:space="preserve" >20</text>
<text transform="translate(29.04,714.45) scale(0.1529,0.1507)" font-family="Liberation Serif" font-weight="normal" font-size="100" fill="#000" xml:space="preserve" >3000</text>
<text transform="translate(29.19,779.74) scale(0.1521,0.1597)" font-family="Liberation Serif" font-weight="normal" font-size="100" fill="#000" xml:space="preserve" >2000</text>
<text transform="translate(29.65,845.32) scale(0.1497,0.1761)" font-family="Liberation Serif" font-weight="normal" font-size="100" fill="#000" xml:space="preserve" >1000</text>
<text transform="translate(52.29,906.03) scale(0.1786,0.1672)" font-family="Liberation Serif" font-weight="normal" font-size="100" fill="#000" xml:space="preserve" >0</text>
<text transform="translate(19.45,778.79) rotate(-90) scale(0.2227,0.2037)" font-family="Liberation Serif" font-weight="normal" font-size="100" fill="#000" xml:space="preserve" >]</text>
<text transform="translate(19.80,794.26) rotate(-90) scale(0.1824,0.1766)" font-family="Liberation Serif" font-size="100" fill="#000" xml:space="preserve">m</text>
<text transform="translate(19.45,802.33) rotate(-90) scale(0.2043,0.2037)" font-family="Liberation Serif" font-weight="normal" font-size="100" fill="#000" xml:space="preserve" >[</text>
<text transform="translate(19.80,855.48) rotate(-90) scale(0.1794,0.1899)" font-family="Liberation Serif" font-size="100" fill="#000" xml:space="preserve">height</text>
<text transform="translate(1138.13,905.84) scale(0.1929,0.1612)" font-family="Liberation Serif" font-weight="normal" font-size="100" fill="#000" xml:space="preserve" >0</text>
<text transform="translate(1138.39,866.88) scale(0.1772,0.1612)" font-family="Liberation Serif" font-weight="normal" font-size="100" fill="#000" xml:space="preserve" >20</text>
<text transform="translate(1138.75,827.92) scale(0.1734,0.1612)" font-family="Liberation Serif" font-weight="normal" font-size="100" fill="#000" xml:space="preserve" >40</text>
<text transform="translate(1138.39,788.96) scale(0.1772,0.1612)" font-family="Liberation Serif" font-weight="normal" font-size="100" fill="#000" xml:space="preserve" >60</text>
<text transform="translate(1138.39,750.00) scale(0.1772,0.1612)" font-family="Liberation Serif" font-weight="normal" font-size="100" fill="#000" xml:space="preserve" >80</text>
<text transform="translate(1138.42,711.04) scale(0.1752,0.1612)" font-family="Liberation Serif" font-weight="normal" font-size="100" fill="#000" xml:space="preserve" >100</text>
<text transform="translate(1194.96,759.00) rotate(-90) scale(0.2000,0.2110)" font-family="Liberation Serif" font-weight="normal" font-size="100" fill="#000" xml:space="preserve" >]</text>
<text transform="translate(1195.81,770.68) rotate(-90) scale(0.1273,0.1866)" font-family="Liberation Serif" font-weight="normal" font-size="100" fill="#000" xml:space="preserve" >%</text>
<text transform="translate(1194.96,781.21) rotate(-90) scale(0.2304,0.2110)" font-family="Liberation Serif" font-weight="normal" font-size="100" fill="#000" xml:space="preserve" >[</text>
<text transform="translate(1196.00,866.92) rotate(-90) scale(0.1734,0.1971)" font-family="Liberation Serif" font-size="100" fill="#000" xml:space="preserve">availability</text>
<text transform="translate(63.97,920.60) scale(0.1690,0.2015)" font-family="Liberation Serif" font-weight="normal" font-size="100" fill="#000" xml:space="preserve" >0</text>
<text transform="translate(172.80,920.60) scale(0.1625,0.2045)" font-family="Liberation Serif" font-weight="normal" font-size="100" fill="#000" xml:space="preserve" >5</text>
<text transform="translate(279.39,920.60) scale(0.1517,0.2015)" font-family="Liberation Serif" font-weight="normal" font-size="100" fill="#000" xml:space="preserve" >10</text>
<text transform="translate(388.21,920.60) scale(0.1517,0.2045)" font-family="Liberation Serif" font-weight="normal" font-size="100" fill="#000" xml:space="preserve" >15</text>
<text transform="translate(497.83,920.60) scale(0.1435,0.2015)" font-family="Liberation Serif" font-weight="normal" font-size="100" fill="#000" xml:space="preserve" >20</text>
<text transform="translate(630.42,918.81) scale(0.1690,0.1940)" font-family="Liberation Serif" font-weight="normal" font-size="100" fill="#000" xml:space="preserve" >0</text>
<text transform="translate(739.25,918.80) scale(0.1625,0.1970)" font-family="Liberation Serif" font-weight="normal" font-size="100" fill="#000" xml:space="preserve" >5</text>
<text transform="translate(845.54,918.81) scale(0.1517,0.1940)" font-family="Liberation Serif" font-weight="normal" font-size="100" fill="#000" xml:space="preserve" >10</text>
<text transform="translate(954.36,918.80) scale(0.1517,0.1970)" font-family="Liberation Serif" font-weight="normal" font-size="100" fill="#000" xml:space="preserve" >15</text>
<text transform="translate(1063.98,918.81) scale(0.1435,0.1940)" font-family="Liberation Serif" font-weight="normal" font-size="100" fill="#000" xml:space="preserve" >20</text>
<text transform="translate(29.04,940.15) scale(0.1529,0.1463)" font-family="Liberation Serif" font-weight="normal" font-size="100" fill="#000" xml:space="preserve" >3000</text>
<text transform="translate(29.19,1005.44) scale(0.1521,0.1627)" font-family="Liberation Serif" font-weight="normal" font-size="100" fill="#000" xml:space="preserve" >2000</text>
<text transform="translate(29.65,1070.92) scale(0.1497,0.1776)" font-family="Liberation Serif" font-weight="normal" font-size="100" fill="#000" xml:space="preserve" >1000</text>
<text transform="translate(52.29,1132.03) scale(0.1786,0.1672)" font-family="Liberation Serif" font-weight="normal" font-size="100" fill="#000" xml:space="preserve" >0</text>
<text transform="translate(15.73,1000.19) rotate(-90) scale(0.2227,0.1976)" font-family="Liberation Serif" font-weight="normal" font-size="100" fill="#000" xml:space="preserve" >]</text>
<text transform="translate(16.00,1015.66) rotate(-90) scale(0.1824,0.1766)" font-family="Liberation Serif" font-size="100" fill="#000" xml:space="preserve">m</text>
<text transform="translate(15.73,1023.73) rotate(-90) scale(0.2043,0.1976)" font-family="Liberation Serif" font-weight="normal" font-size="100" fill="#000" xml:space="preserve" >[</text>
<text transform="translate(16.00,1076.58) rotate(-90) scale(0.1782,0.1826)" font-family="Liberation Serif" font-size="100" fill="#000" xml:space="preserve">height</text>
<text transform="translate(1136.93,1130.14) scale(0.1929,0.1612)" font-family="Liberation Serif" font-weight="normal" font-size="100" fill="#000" xml:space="preserve" >0</text>
<text transform="translate(1137.19,1091.36) scale(0.1772,0.1612)" font-family="Liberation Serif" font-weight="normal" font-size="100" fill="#000" xml:space="preserve" >20</text>
<text transform="translate(1137.55,1052.58) scale(0.1734,0.1612)" font-family="Liberation Serif" font-weight="normal" font-size="100" fill="#000" xml:space="preserve" >40</text>
<text transform="translate(1137.19,1013.80) scale(0.1772,0.1612)" font-family="Liberation Serif" font-weight="normal" font-size="100" fill="#000" xml:space="preserve" >60</text>
<text transform="translate(1137.19,975.02) scale(0.1772,0.1612)" font-family="Liberation Serif" font-weight="normal" font-size="100" fill="#000" xml:space="preserve" >80</text>
<text transform="translate(1137.22,936.24) scale(0.1752,0.1612)" font-family="Liberation Serif" font-weight="normal" font-size="100" fill="#000" xml:space="preserve" >100</text>
<text transform="translate(1195.76,986.60) rotate(-90) scale(0.2000,0.2110)" font-family="Liberation Serif" font-weight="normal" font-size="100" fill="#000" xml:space="preserve" >]</text>
<text transform="translate(1196.61,998.28) rotate(-90) scale(0.1273,0.1866)" font-family="Liberation Serif" font-weight="normal" font-size="100" fill="#000" xml:space="preserve" >%</text>
<text transform="translate(1195.76,1008.81) rotate(-90) scale(0.2304,0.2110)" font-family="Liberation Serif" font-weight="normal" font-size="100" fill="#000" xml:space="preserve" >[</text>
<text transform="translate(1196.80,1095.33) rotate(-90) scale(0.1752,0.1971)" font-family="Liberation Serif" font-size="100" fill="#000" xml:space="preserve">availability</text>
<text transform="translate(64.17,1143.51) scale(0.1690,0.1896)" font-family="Liberation Serif" font-weight="normal" font-size="100" fill="#000" xml:space="preserve" >0</text>
<text transform="translate(173.00,1143.51) scale(0.1625,0.1924)" font-family="Liberation Serif" font-weight="normal" font-size="100" fill="#000" xml:space="preserve" >5</text>
<text transform="translate(279.49,1143.51) scale(0.1517,0.1896)" font-family="Liberation Serif" font-weight="normal" font-size="100" fill="#000" xml:space="preserve" >10</text>
<text transform="translate(388.31,1143.51) scale(0.1517,0.1924)" font-family="Liberation Serif" font-weight="normal" font-size="100" fill="#000" xml:space="preserve" >15</text>
<text transform="translate(497.93,1143.51) scale(0.1435,0.1896)" font-family="Liberation Serif" font-weight="normal" font-size="100" fill="#000" xml:space="preserve" >20</text>
<text transform="translate(630.67,1144.51) scale(0.1690,0.1896)" font-family="Liberation Serif" font-weight="normal" font-size="100" fill="#000" xml:space="preserve" >0</text>
<text transform="translate(739.50,1144.51) scale(0.1625,0.1924)" font-family="Liberation Serif" font-weight="normal" font-size="100" fill="#000" xml:space="preserve" >5</text>
<text transform="translate(845.79,1144.51) scale(0.1517,0.1896)" font-family="Liberation Serif" font-weight="normal" font-size="100" fill="#000" xml:space="preserve" >10</text>
<text transform="translate(954.61,1144.51) scale(0.1517,0.1924)" font-family="Liberation Serif" font-weight="normal" font-size="100" fill="#000" xml:space="preserve" >15</text>
<text transform="translate(1064.23,1144.51) scale(0.1435,0.1896)" font-family="Liberation Serif" font-weight="normal" font-size="100" fill="#000" xml:space="preserve" >20</text>
<text transform="translate(29.04,1166.15) scale(0.1529,0.1463)" font-family="Liberation Serif" font-weight="normal" font-size="100" fill="#000" xml:space="preserve" >3000</text>
<text transform="translate(29.19,1231.74) scale(0.1521,0.1597)" font-family="Liberation Serif" font-weight="normal" font-size="100" fill="#000" xml:space="preserve" >2000</text>
<text transform="translate(29.65,1296.92) scale(0.1497,0.1776)" font-family="Liberation Serif" font-weight="normal" font-size="100" fill="#000" xml:space="preserve" >1000</text>
<text transform="translate(52.29,1359.53) scale(0.1786,0.1716)" font-family="Liberation Serif" font-weight="normal" font-size="100" fill="#000" xml:space="preserve" >0</text>
<text transform="translate(20.63,1231.89) rotate(-90) scale(0.2227,0.1976)" font-family="Liberation Serif" font-weight="normal" font-size="100" fill="#000" xml:space="preserve" >]</text>
<text transform="translate(20.90,1247.36) rotate(-90) scale(0.1824,0.1766)" font-family="Liberation Serif" font-size="100" fill="#000" xml:space="preserve">m</text>
<text transform="translate(20.63,1255.43) rotate(-90) scale(0.2043,0.1976)" font-family="Liberation Serif" font-weight="normal" font-size="100" fill="#000" xml:space="preserve" >[</text>
<text transform="translate(20.90,1309.08) rotate(-90) scale(0.1815,0.1826)" font-family="Liberation Serif" font-size="100" fill="#000" xml:space="preserve">height</text>
<text transform="translate(1138.13,1356.04) scale(0.1929,0.1612)" font-family="Liberation Serif" font-weight="normal" font-size="100" fill="#000" xml:space="preserve" >0</text>
<text transform="translate(1138.39,1316.98) scale(0.1772,0.1612)" font-family="Liberation Serif" font-weight="normal" font-size="100" fill="#000" xml:space="preserve" >20</text>
<text transform="translate(1138.75,1277.92) scale(0.1734,0.1612)" font-family="Liberation Serif" font-weight="normal" font-size="100" fill="#000" xml:space="preserve" >40</text>
<text transform="translate(1138.39,1238.86) scale(0.1772,0.1612)" font-family="Liberation Serif" font-weight="normal" font-size="100" fill="#000" xml:space="preserve" >60</text>
<text transform="translate(1138.39,1199.80) scale(0.1772,0.1612)" font-family="Liberation Serif" font-weight="normal" font-size="100" fill="#000" xml:space="preserve" >80</text>
<text transform="translate(1138.42,1160.74) scale(0.1752,0.1612)" font-family="Liberation Serif" font-weight="normal" font-size="100" fill="#000" xml:space="preserve" >100</text>
<text transform="translate(1193.36,1212.40) rotate(-90) scale(0.2000,0.2110)" font-family="Liberation Serif" font-weight="normal" font-size="100" fill="#000" xml:space="preserve" >]</text>
<text transform="translate(1194.21,1224.08) rotate(-90) scale(0.1273,0.1866)" font-family="Liberation Serif" font-weight="normal" font-size="100" fill="#000" xml:space="preserve" >%</text>
<text transform="translate(1193.36,1234.61) rotate(-90) scale(0.2304,0.2110)" font-family="Liberation Serif" font-weight="normal" font-size="100" fill="#000" xml:space="preserve" >[</text>
<text transform="translate(1194.40,1321.23) rotate(-90) scale(0.1754,0.1971)" font-family="Liberation Serif" font-size="100" fill="#000" xml:space="preserve">availability</text>
<text transform="translate(64.97,1372.60) scale(0.1690,0.1955)" font-family="Liberation Serif" font-weight="normal" font-size="100" fill="#000" xml:space="preserve" >0</text>
<text transform="translate(173.80,1372.60) scale(0.1625,0.1985)" font-family="Liberation Serif" font-weight="normal" font-size="100" fill="#000" xml:space="preserve" >5</text>
<text transform="translate(279.69,1372.60) scale(0.1517,0.1955)" font-family="Liberation Serif" font-weight="normal" font-size="100" fill="#000" xml:space="preserve" >10</text>
<text transform="translate(388.51,1372.60) scale(0.1517,0.1985)" font-family="Liberation Serif" font-weight="normal" font-size="100" fill="#000" xml:space="preserve" >15</text>
<text transform="translate(498.13,1372.60) scale(0.1435,0.1955)" font-family="Liberation Serif" font-weight="normal" font-size="100" fill="#000" xml:space="preserve" >20</text>
<text transform="translate(629.67,1372.51) scale(0.1690,0.1896)" font-family="Liberation Serif" font-weight="normal" font-size="100" fill="#000" xml:space="preserve" >0</text>
<text transform="translate(738.50,1372.51) scale(0.1625,0.1924)" font-family="Liberation Serif" font-weight="normal" font-size="100" fill="#000" xml:space="preserve" >5</text>
<text transform="translate(844.69,1372.51) scale(0.1517,0.1896)" font-family="Liberation Serif" font-weight="normal" font-size="100" fill="#000" xml:space="preserve" >10</text>
<text transform="translate(953.51,1372.51) scale(0.1517,0.1924)" font-family="Liberation Serif" font-weight="normal" font-size="100" fill="#000" xml:space="preserve" >15</text>
<text transform="translate(1063.13,1372.51) scale(0.1435,0.1896)" font-family="Liberation Serif" font-weight="normal" font-size="100" fill="#000" xml:space="preserve" >20</text>
<text transform="translate(237.29,1401.50) scale(0.2291,0.2304)" font-family="Liberation Serif" font-size="100" fill="#000" xml:space="preserve">local</text>
<text transform="translate(294.77,1401.50) scale(0.2312,0.2304)" font-family="Liberation Serif" font-size="100" fill="#000" xml:space="preserve">time</text>
<text transform="translate(347.38,1401.50) scale(0.1961,0.2304)" font-family="Liberation Serif" font-size="100" fill="#000" xml:space="preserve">[h]</text>
<text transform="translate(815.04,1401.00) scale(0.2293,0.2174)" font-family="Liberation Serif" font-size="100" fill="#000" xml:space="preserve">local</text>
<text transform="translate(872.97,1401.00) scale(0.2254,0.2174)" font-family="Liberation Serif" font-size="100" fill="#000" xml:space="preserve">time</text>
<text transform="translate(924.16,1401.00) scale(0.2206,0.2174)" font-family="Liberation Serif" font-size="100" fill="#000" xml:space="preserve">[h]</text>
</g>
</svg></body></html>
